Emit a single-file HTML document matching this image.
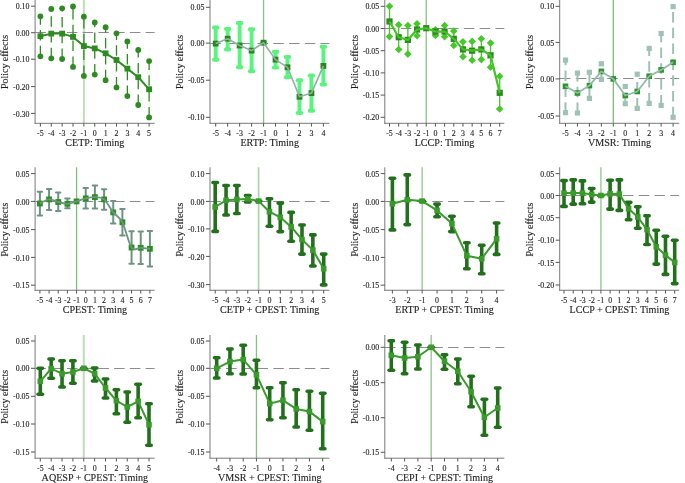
<!DOCTYPE html>
<html><head><meta charset="utf-8"><style>
html,body{margin:0;padding:0;background:#fff;}
svg{display:block;will-change:transform;}
text{font-family:"Liberation Serif",serif;fill:#1e1e1e;stroke:#222;stroke-width:0.12px;}
</style></head><body>
<svg width="685" height="483" viewBox="0 0 685 483">
<rect width="685" height="483" fill="#fff"/>
<g><line x1="83.88" y1="0" x2="83.88" y2="123.3" stroke="#bedfb9" stroke-width="2.0"/><line x1="35.4" y1="32.5" x2="154.6" y2="32.5" stroke="#8c8c8c" stroke-width="1" stroke-dasharray="10.5 5.25"/><line x1="35.1" y1="0" x2="35.1" y2="123.8" stroke="#7a7a7a" stroke-width="1"/><line x1="34.6" y1="123.3" x2="154.6" y2="123.3" stroke="#7a7a7a" stroke-width="1"/><line x1="31" y1="6.2" x2="35.1" y2="6.2" stroke="#555555" stroke-width="1"/><text x="29.5" y="9.3" text-anchor="end" font-size="7.9">0.10</text><line x1="31" y1="32.7" x2="35.1" y2="32.7" stroke="#555555" stroke-width="1"/><text x="29.5" y="35.8" text-anchor="end" font-size="7.9">0.00</text><line x1="31" y1="59.2" x2="35.1" y2="59.2" stroke="#555555" stroke-width="1"/><text x="29.5" y="62.3" text-anchor="end" font-size="7.9">-0.10</text><line x1="31" y1="86.6" x2="35.1" y2="86.6" stroke="#555555" stroke-width="1"/><text x="29.5" y="89.7" text-anchor="end" font-size="7.9">-0.20</text><line x1="31" y1="113.4" x2="35.1" y2="113.4" stroke="#555555" stroke-width="1"/><text x="29.5" y="116.5" text-anchor="end" font-size="7.9">-0.30</text><line x1="40.4" y1="123.3" x2="40.4" y2="126.6" stroke="#555555" stroke-width="1"/><text x="40.4" y="135.7" text-anchor="middle" font-size="7.9">-5</text><line x1="51.27" y1="123.3" x2="51.27" y2="126.6" stroke="#555555" stroke-width="1"/><text x="51.27" y="135.7" text-anchor="middle" font-size="7.9">-4</text><line x1="62.14" y1="123.3" x2="62.14" y2="126.6" stroke="#555555" stroke-width="1"/><text x="62.14" y="135.7" text-anchor="middle" font-size="7.9">-3</text><line x1="73.01" y1="123.3" x2="73.01" y2="126.6" stroke="#555555" stroke-width="1"/><text x="73.01" y="135.7" text-anchor="middle" font-size="7.9">-2</text><line x1="83.88" y1="123.3" x2="83.88" y2="126.6" stroke="#555555" stroke-width="1"/><text x="83.88" y="135.7" text-anchor="middle" font-size="7.9">-1</text><line x1="94.75" y1="123.3" x2="94.75" y2="126.6" stroke="#555555" stroke-width="1"/><text x="94.75" y="135.7" text-anchor="middle" font-size="7.9">0</text><line x1="105.62" y1="123.3" x2="105.62" y2="126.6" stroke="#555555" stroke-width="1"/><text x="105.62" y="135.7" text-anchor="middle" font-size="7.9">1</text><line x1="116.49" y1="123.3" x2="116.49" y2="126.6" stroke="#555555" stroke-width="1"/><text x="116.49" y="135.7" text-anchor="middle" font-size="7.9">2</text><line x1="127.36" y1="123.3" x2="127.36" y2="126.6" stroke="#555555" stroke-width="1"/><text x="127.36" y="135.7" text-anchor="middle" font-size="7.9">3</text><line x1="138.23" y1="123.3" x2="138.23" y2="126.6" stroke="#555555" stroke-width="1"/><text x="138.23" y="135.7" text-anchor="middle" font-size="7.9">4</text><line x1="149.1" y1="123.3" x2="149.1" y2="126.6" stroke="#555555" stroke-width="1"/><text x="149.1" y="135.7" text-anchor="middle" font-size="7.9">5</text><text transform="translate(94.85,145.9) scale(1,1.09)" text-anchor="middle" font-size="10.1">CETP: Timing</text><line x1="40.4" y1="56.3" x2="40.4" y2="16.3" stroke="#2e8b22" stroke-width="1.3" stroke-dasharray="10.5 5.3"/><circle cx="40.4" cy="16.3" r="2.9" fill="#2e8b22"/><circle cx="40.4" cy="56.3" r="2.9" fill="#2e8b22"/><line x1="51.27" y1="58.3" x2="51.27" y2="9" stroke="#2e8b22" stroke-width="1.3" stroke-dasharray="10.5 5.3"/><circle cx="51.27" cy="9" r="2.9" fill="#2e8b22"/><circle cx="51.27" cy="58.3" r="2.9" fill="#2e8b22"/><line x1="62.14" y1="59" x2="62.14" y2="8.3" stroke="#2e8b22" stroke-width="1.3" stroke-dasharray="10.5 5.3"/><circle cx="62.14" cy="8.3" r="2.9" fill="#2e8b22"/><circle cx="62.14" cy="59" r="2.9" fill="#2e8b22"/><line x1="73.01" y1="66.9" x2="73.01" y2="6.5" stroke="#2e8b22" stroke-width="1.3" stroke-dasharray="10.5 5.3"/><circle cx="73.01" cy="6.5" r="2.9" fill="#2e8b22"/><circle cx="73.01" cy="66.9" r="2.9" fill="#2e8b22"/><line x1="83.88" y1="75.9" x2="83.88" y2="16.7" stroke="#2e8b22" stroke-width="1.3" stroke-dasharray="10.5 5.3"/><circle cx="83.88" cy="16.7" r="2.9" fill="#2e8b22"/><circle cx="83.88" cy="75.9" r="2.9" fill="#2e8b22"/><line x1="94.75" y1="74.6" x2="94.75" y2="22.5" stroke="#2e8b22" stroke-width="1.3" stroke-dasharray="10.5 5.3"/><circle cx="94.75" cy="22.5" r="2.9" fill="#2e8b22"/><circle cx="94.75" cy="74.6" r="2.9" fill="#2e8b22"/><line x1="105.62" y1="80.2" x2="105.62" y2="27.2" stroke="#2e8b22" stroke-width="1.3" stroke-dasharray="10.5 5.3"/><circle cx="105.62" cy="27.2" r="2.9" fill="#2e8b22"/><circle cx="105.62" cy="80.2" r="2.9" fill="#2e8b22"/><line x1="116.49" y1="87.4" x2="116.49" y2="33.3" stroke="#2e8b22" stroke-width="1.3" stroke-dasharray="10.5 5.3"/><circle cx="116.49" cy="33.3" r="2.9" fill="#2e8b22"/><circle cx="116.49" cy="87.4" r="2.9" fill="#2e8b22"/><line x1="127.36" y1="96.1" x2="127.36" y2="41.4" stroke="#2e8b22" stroke-width="1.3" stroke-dasharray="10.5 5.3"/><circle cx="127.36" cy="41.4" r="2.9" fill="#2e8b22"/><circle cx="127.36" cy="96.1" r="2.9" fill="#2e8b22"/><line x1="138.23" y1="105" x2="138.23" y2="50" stroke="#2e8b22" stroke-width="1.3" stroke-dasharray="10.5 5.3"/><circle cx="138.23" cy="50" r="2.9" fill="#2e8b22"/><circle cx="138.23" cy="105" r="2.9" fill="#2e8b22"/><line x1="149.1" y1="117.4" x2="149.1" y2="61.1" stroke="#2e8b22" stroke-width="1.3" stroke-dasharray="10.5 5.3"/><circle cx="149.1" cy="61.1" r="2.9" fill="#2e8b22"/><circle cx="149.1" cy="117.4" r="2.9" fill="#2e8b22"/><rect x="37.5" y="33.3" width="5.8" height="5.8" fill="#2e8b22"/><rect x="48.37" y="30.7" width="5.8" height="5.8" fill="#2e8b22"/><rect x="59.24" y="30.7" width="5.8" height="5.8" fill="#2e8b22"/><rect x="70.11" y="34" width="5.8" height="5.8" fill="#2e8b22"/><rect x="80.98" y="43.2" width="5.8" height="5.8" fill="#2e8b22"/><rect x="91.85" y="45.5" width="5.8" height="5.8" fill="#2e8b22"/><rect x="102.72" y="50.4" width="5.8" height="5.8" fill="#2e8b22"/><rect x="113.59" y="57.1" width="5.8" height="5.8" fill="#2e8b22"/><rect x="124.46" y="65.7" width="5.8" height="5.8" fill="#2e8b22"/><rect x="135.33" y="74.3" width="5.8" height="5.8" fill="#2e8b22"/><rect x="146.2" y="86.4" width="5.8" height="5.8" fill="#2e8b22"/><polyline points="40.4,36.2 51.27,33.6 62.14,33.6 73.01,36.9 83.88,46.1 94.75,48.4 105.62,53.3 116.49,60 127.36,68.6 138.23,77.2 149.1,89.3" fill="none" stroke="#2e8b22" stroke-width="2.0" stroke-linejoin="round"/><text transform="translate(8,61.95) rotate(-90) scale(0.98,1)" text-anchor="middle" font-size="10.1">Policy effects</text></g>
<g><line x1="263.57" y1="0" x2="263.57" y2="123.3" stroke="#86c082" stroke-width="1.3"/><line x1="210.3" y1="43.5" x2="329.4" y2="43.5" stroke="#8c8c8c" stroke-width="1" stroke-dasharray="10.5 5.25"/><line x1="210" y1="0" x2="210" y2="123.8" stroke="#7a7a7a" stroke-width="1"/><line x1="209.5" y1="123.3" x2="329.4" y2="123.3" stroke="#7a7a7a" stroke-width="1"/><line x1="205.9" y1="7.3" x2="210" y2="7.3" stroke="#555555" stroke-width="1"/><text x="204.4" y="10.4" text-anchor="end" font-size="7.9">0.05</text><line x1="205.9" y1="43.1" x2="210" y2="43.1" stroke="#555555" stroke-width="1"/><text x="204.4" y="46.2" text-anchor="end" font-size="7.9">0.00</text><line x1="205.9" y1="80.2" x2="210" y2="80.2" stroke="#555555" stroke-width="1"/><text x="204.4" y="83.3" text-anchor="end" font-size="7.9">-0.05</text><line x1="205.9" y1="117.3" x2="210" y2="117.3" stroke="#555555" stroke-width="1"/><text x="204.4" y="120.4" text-anchor="end" font-size="7.9">-0.10</text><line x1="215.7" y1="123.3" x2="215.7" y2="126.6" stroke="#555555" stroke-width="1"/><text x="215.7" y="135.7" text-anchor="middle" font-size="7.9">-5</text><line x1="227.67" y1="123.3" x2="227.67" y2="126.6" stroke="#555555" stroke-width="1"/><text x="227.67" y="135.7" text-anchor="middle" font-size="7.9">-4</text><line x1="239.63" y1="123.3" x2="239.63" y2="126.6" stroke="#555555" stroke-width="1"/><text x="239.63" y="135.7" text-anchor="middle" font-size="7.9">-3</text><line x1="251.6" y1="123.3" x2="251.6" y2="126.6" stroke="#555555" stroke-width="1"/><text x="251.6" y="135.7" text-anchor="middle" font-size="7.9">-2</text><line x1="263.57" y1="123.3" x2="263.57" y2="126.6" stroke="#555555" stroke-width="1"/><text x="263.57" y="135.7" text-anchor="middle" font-size="7.9">-1</text><line x1="275.53" y1="123.3" x2="275.53" y2="126.6" stroke="#555555" stroke-width="1"/><text x="275.53" y="135.7" text-anchor="middle" font-size="7.9">0</text><line x1="287.5" y1="123.3" x2="287.5" y2="126.6" stroke="#555555" stroke-width="1"/><text x="287.5" y="135.7" text-anchor="middle" font-size="7.9">1</text><line x1="299.47" y1="123.3" x2="299.47" y2="126.6" stroke="#555555" stroke-width="1"/><text x="299.47" y="135.7" text-anchor="middle" font-size="7.9">2</text><line x1="311.43" y1="123.3" x2="311.43" y2="126.6" stroke="#555555" stroke-width="1"/><text x="311.43" y="135.7" text-anchor="middle" font-size="7.9">3</text><line x1="323.4" y1="123.3" x2="323.4" y2="126.6" stroke="#555555" stroke-width="1"/><text x="323.4" y="135.7" text-anchor="middle" font-size="7.9">4</text><text transform="translate(269.7,145.9) scale(1,1.09)" text-anchor="middle" font-size="10.1">ERTP: Timing</text><line x1="215.7" y1="59.7" x2="215.7" y2="27.5" stroke="#58f47c" stroke-width="3.9"/><line x1="213.9" y1="27.5" x2="217.5" y2="27.5" stroke="#58f47c" stroke-width="3.9" stroke-linecap="round"/><line x1="213.9" y1="59.7" x2="217.5" y2="59.7" stroke="#58f47c" stroke-width="3.9" stroke-linecap="round"/><line x1="227.67" y1="49.5" x2="227.67" y2="29" stroke="#58f47c" stroke-width="3.9"/><line x1="225.87" y1="29" x2="229.47" y2="29" stroke="#58f47c" stroke-width="3.9" stroke-linecap="round"/><line x1="225.87" y1="49.5" x2="229.47" y2="49.5" stroke="#58f47c" stroke-width="3.9" stroke-linecap="round"/><line x1="239.63" y1="67.2" x2="239.63" y2="23" stroke="#58f47c" stroke-width="3.9"/><line x1="237.83" y1="23" x2="241.43" y2="23" stroke="#58f47c" stroke-width="3.9" stroke-linecap="round"/><line x1="237.83" y1="67.2" x2="241.43" y2="67.2" stroke="#58f47c" stroke-width="3.9" stroke-linecap="round"/><line x1="251.6" y1="71.2" x2="251.6" y2="29.2" stroke="#58f47c" stroke-width="3.9"/><line x1="249.8" y1="29.2" x2="253.4" y2="29.2" stroke="#58f47c" stroke-width="3.9" stroke-linecap="round"/><line x1="249.8" y1="71.2" x2="253.4" y2="71.2" stroke="#58f47c" stroke-width="3.9" stroke-linecap="round"/><line x1="261.77" y1="42.7" x2="265.37" y2="42.7" stroke="#58f47c" stroke-width="3.9" stroke-linecap="round"/><line x1="275.53" y1="67.6" x2="275.53" y2="51.7" stroke="#58f47c" stroke-width="3.9"/><line x1="273.73" y1="51.7" x2="277.33" y2="51.7" stroke="#58f47c" stroke-width="3.9" stroke-linecap="round"/><line x1="273.73" y1="67.6" x2="277.33" y2="67.6" stroke="#58f47c" stroke-width="3.9" stroke-linecap="round"/><line x1="287.5" y1="77.2" x2="287.5" y2="57" stroke="#58f47c" stroke-width="3.9"/><line x1="285.7" y1="57" x2="289.3" y2="57" stroke="#58f47c" stroke-width="3.9" stroke-linecap="round"/><line x1="285.7" y1="77.2" x2="289.3" y2="77.2" stroke="#58f47c" stroke-width="3.9" stroke-linecap="round"/><line x1="299.47" y1="113" x2="299.47" y2="80.2" stroke="#58f47c" stroke-width="3.9"/><line x1="297.67" y1="80.2" x2="301.27" y2="80.2" stroke="#58f47c" stroke-width="3.9" stroke-linecap="round"/><line x1="297.67" y1="113" x2="301.27" y2="113" stroke="#58f47c" stroke-width="3.9" stroke-linecap="round"/><line x1="311.43" y1="110.7" x2="311.43" y2="75.5" stroke="#58f47c" stroke-width="3.9"/><line x1="309.63" y1="75.5" x2="313.23" y2="75.5" stroke="#58f47c" stroke-width="3.9" stroke-linecap="round"/><line x1="309.63" y1="110.7" x2="313.23" y2="110.7" stroke="#58f47c" stroke-width="3.9" stroke-linecap="round"/><line x1="323.4" y1="84.5" x2="323.4" y2="46.7" stroke="#58f47c" stroke-width="3.9"/><line x1="321.6" y1="46.7" x2="325.2" y2="46.7" stroke="#58f47c" stroke-width="3.9" stroke-linecap="round"/><line x1="321.6" y1="84.5" x2="325.2" y2="84.5" stroke="#58f47c" stroke-width="3.9" stroke-linecap="round"/><rect x="212.8" y="40.7" width="5.8" height="5.8" fill="#2a8520"/><rect x="224.77" y="35.8" width="5.8" height="5.8" fill="#2a8520"/><rect x="236.73" y="42.6" width="5.8" height="5.8" fill="#2a8520"/><rect x="248.7" y="47.7" width="5.8" height="5.8" fill="#2a8520"/><rect x="260.67" y="39.8" width="5.8" height="5.8" fill="#2a8520"/><rect x="272.63" y="56.7" width="5.8" height="5.8" fill="#2a8520"/><rect x="284.6" y="64.4" width="5.8" height="5.8" fill="#2a8520"/><rect x="296.57" y="93.9" width="5.8" height="5.8" fill="#2a8520"/><rect x="308.53" y="90.2" width="5.8" height="5.8" fill="#2a8520"/><rect x="320.5" y="63" width="5.8" height="5.8" fill="#2a8520"/><polyline points="215.7,43.6 227.67,38.7 239.63,45.5 251.6,50.6 263.57,42.7 275.53,59.6 287.5,67.3 299.47,96.8 311.43,93.1 323.4,65.9" fill="none" stroke="#8eb1a4" stroke-width="1.6" stroke-linejoin="round"/><text transform="translate(182.9,61.95) rotate(-90) scale(0.98,1)" text-anchor="middle" font-size="10.1">Policy effects</text></g>
<g><line x1="426.23" y1="0" x2="426.23" y2="123.3" stroke="#86c082" stroke-width="1.3"/><line x1="385.1" y1="28.5" x2="504.3" y2="28.5" stroke="#8c8c8c" stroke-width="1" stroke-dasharray="10.5 5.25"/><line x1="384.8" y1="0" x2="384.8" y2="123.8" stroke="#7a7a7a" stroke-width="1"/><line x1="384.3" y1="123.3" x2="504.3" y2="123.3" stroke="#7a7a7a" stroke-width="1"/><line x1="380.7" y1="6.3" x2="384.8" y2="6.3" stroke="#555555" stroke-width="1"/><text x="379.2" y="9.4" text-anchor="end" font-size="7.9">0.05</text><line x1="380.7" y1="28.5" x2="384.8" y2="28.5" stroke="#555555" stroke-width="1"/><text x="379.2" y="31.6" text-anchor="end" font-size="7.9">0.00</text><line x1="380.7" y1="50.7" x2="384.8" y2="50.7" stroke="#555555" stroke-width="1"/><text x="379.2" y="53.8" text-anchor="end" font-size="7.9">-0.05</text><line x1="380.7" y1="72.9" x2="384.8" y2="72.9" stroke="#555555" stroke-width="1"/><text x="379.2" y="76" text-anchor="end" font-size="7.9">-0.10</text><line x1="380.7" y1="95.1" x2="384.8" y2="95.1" stroke="#555555" stroke-width="1"/><text x="379.2" y="98.2" text-anchor="end" font-size="7.9">-0.15</text><line x1="380.7" y1="117.3" x2="384.8" y2="117.3" stroke="#555555" stroke-width="1"/><text x="379.2" y="120.4" text-anchor="end" font-size="7.9">-0.20</text><line x1="389.5" y1="123.3" x2="389.5" y2="126.6" stroke="#555555" stroke-width="1"/><text x="389.5" y="135.7" text-anchor="middle" font-size="7.9">-5</text><line x1="398.68" y1="123.3" x2="398.68" y2="126.6" stroke="#555555" stroke-width="1"/><text x="398.68" y="135.7" text-anchor="middle" font-size="7.9">-4</text><line x1="407.87" y1="123.3" x2="407.87" y2="126.6" stroke="#555555" stroke-width="1"/><text x="407.87" y="135.7" text-anchor="middle" font-size="7.9">-3</text><line x1="417.05" y1="123.3" x2="417.05" y2="126.6" stroke="#555555" stroke-width="1"/><text x="417.05" y="135.7" text-anchor="middle" font-size="7.9">-2</text><line x1="426.23" y1="123.3" x2="426.23" y2="126.6" stroke="#555555" stroke-width="1"/><text x="426.23" y="135.7" text-anchor="middle" font-size="7.9">-1</text><line x1="435.42" y1="123.3" x2="435.42" y2="126.6" stroke="#555555" stroke-width="1"/><text x="435.42" y="135.7" text-anchor="middle" font-size="7.9">0</text><line x1="444.6" y1="123.3" x2="444.6" y2="126.6" stroke="#555555" stroke-width="1"/><text x="444.6" y="135.7" text-anchor="middle" font-size="7.9">1</text><line x1="453.78" y1="123.3" x2="453.78" y2="126.6" stroke="#555555" stroke-width="1"/><text x="453.78" y="135.7" text-anchor="middle" font-size="7.9">2</text><line x1="462.97" y1="123.3" x2="462.97" y2="126.6" stroke="#555555" stroke-width="1"/><text x="462.97" y="135.7" text-anchor="middle" font-size="7.9">3</text><line x1="472.15" y1="123.3" x2="472.15" y2="126.6" stroke="#555555" stroke-width="1"/><text x="472.15" y="135.7" text-anchor="middle" font-size="7.9">4</text><line x1="481.33" y1="123.3" x2="481.33" y2="126.6" stroke="#555555" stroke-width="1"/><text x="481.33" y="135.7" text-anchor="middle" font-size="7.9">5</text><line x1="490.52" y1="123.3" x2="490.52" y2="126.6" stroke="#555555" stroke-width="1"/><text x="490.52" y="135.7" text-anchor="middle" font-size="7.9">6</text><line x1="499.7" y1="123.3" x2="499.7" y2="126.6" stroke="#555555" stroke-width="1"/><text x="499.7" y="135.7" text-anchor="middle" font-size="7.9">7</text><text transform="translate(444.55,145.9) scale(1,1.09)" text-anchor="middle" font-size="10.1">LCCP: Timing</text><line x1="389.5" y1="36.6" x2="389.5" y2="6.2" stroke="#45c92a" stroke-width="1.3"/><path d="M389.5,2.4 L393.3,6.2 L389.5,10 L385.7,6.2 Z" fill="#45c92a"/><path d="M389.5,32.8 L393.3,36.6 L389.5,40.4 L385.7,36.6 Z" fill="#45c92a"/><line x1="398.68" y1="49.5" x2="398.68" y2="24.7" stroke="#45c92a" stroke-width="1.3"/><path d="M398.68,20.9 L402.48,24.7 L398.68,28.5 L394.88,24.7 Z" fill="#45c92a"/><path d="M398.68,45.7 L402.48,49.5 L398.68,53.3 L394.88,49.5 Z" fill="#45c92a"/><line x1="407.87" y1="54.1" x2="407.87" y2="25.5" stroke="#45c92a" stroke-width="1.3"/><path d="M407.87,21.7 L411.67,25.5 L407.87,29.3 L404.07,25.5 Z" fill="#45c92a"/><path d="M407.87,50.3 L411.67,54.1 L407.87,57.9 L404.07,54.1 Z" fill="#45c92a"/><line x1="417.05" y1="35.7" x2="417.05" y2="23.8" stroke="#45c92a" stroke-width="1.3"/><path d="M417.05,20 L420.85,23.8 L417.05,27.6 L413.25,23.8 Z" fill="#45c92a"/><path d="M417.05,31.9 L420.85,35.7 L417.05,39.5 L413.25,35.7 Z" fill="#45c92a"/><line x1="435.42" y1="35.5" x2="435.42" y2="29.7" stroke="#45c92a" stroke-width="1.3"/><path d="M435.42,25.9 L439.22,29.7 L435.42,33.5 L431.62,29.7 Z" fill="#45c92a"/><path d="M435.42,31.7 L439.22,35.5 L435.42,39.3 L431.62,35.5 Z" fill="#45c92a"/><line x1="444.6" y1="36.8" x2="444.6" y2="25.5" stroke="#45c92a" stroke-width="1.3"/><path d="M444.6,21.7 L448.4,25.5 L444.6,29.3 L440.8,25.5 Z" fill="#45c92a"/><path d="M444.6,33 L448.4,36.8 L444.6,40.6 L440.8,36.8 Z" fill="#45c92a"/><line x1="453.78" y1="45.4" x2="453.78" y2="31.1" stroke="#45c92a" stroke-width="1.3"/><path d="M453.78,27.3 L457.58,31.1 L453.78,34.9 L449.98,31.1 Z" fill="#45c92a"/><path d="M453.78,41.6 L457.58,45.4 L453.78,49.2 L449.98,45.4 Z" fill="#45c92a"/><line x1="462.97" y1="56.7" x2="462.97" y2="41.7" stroke="#45c92a" stroke-width="1.3"/><path d="M462.97,37.9 L466.77,41.7 L462.97,45.5 L459.17,41.7 Z" fill="#45c92a"/><path d="M462.97,52.9 L466.77,56.7 L462.97,60.5 L459.17,56.7 Z" fill="#45c92a"/><line x1="472.15" y1="60.3" x2="472.15" y2="41.4" stroke="#45c92a" stroke-width="1.3"/><path d="M472.15,37.6 L475.95,41.4 L472.15,45.2 L468.35,41.4 Z" fill="#45c92a"/><path d="M472.15,56.5 L475.95,60.3 L472.15,64.1 L468.35,60.3 Z" fill="#45c92a"/><line x1="481.33" y1="59.6" x2="481.33" y2="38.8" stroke="#45c92a" stroke-width="1.3"/><path d="M481.33,35 L485.13,38.8 L481.33,42.6 L477.53,38.8 Z" fill="#45c92a"/><path d="M481.33,55.8 L485.13,59.6 L481.33,63.4 L477.53,59.6 Z" fill="#45c92a"/><line x1="490.52" y1="67.3" x2="490.52" y2="43.1" stroke="#45c92a" stroke-width="1.3"/><path d="M490.52,39.3 L494.32,43.1 L490.52,46.9 L486.72,43.1 Z" fill="#45c92a"/><path d="M490.52,63.5 L494.32,67.3 L490.52,71.1 L486.72,67.3 Z" fill="#45c92a"/><line x1="499.7" y1="109" x2="499.7" y2="76.2" stroke="#45c92a" stroke-width="1.3"/><path d="M499.7,72.4 L503.5,76.2 L499.7,80 L495.9,76.2 Z" fill="#45c92a"/><path d="M499.7,105.2 L503.5,109 L499.7,112.8 L495.9,109 Z" fill="#45c92a"/><rect x="386.4" y="18.4" width="6.2" height="6.2" fill="#2b8a1c"/><rect x="395.58" y="34.1" width="6.2" height="6.2" fill="#2b8a1c"/><rect x="404.77" y="36.8" width="6.2" height="6.2" fill="#2b8a1c"/><rect x="413.95" y="26.4" width="6.2" height="6.2" fill="#2b8a1c"/><rect x="423.13" y="25.1" width="6.2" height="6.2" fill="#2b8a1c"/><rect x="432.32" y="28.5" width="6.2" height="6.2" fill="#2b8a1c"/><rect x="441.5" y="28.4" width="6.2" height="6.2" fill="#2b8a1c"/><rect x="450.68" y="35.7" width="6.2" height="6.2" fill="#2b8a1c"/><rect x="459.87" y="46.3" width="6.2" height="6.2" fill="#2b8a1c"/><rect x="469.05" y="47.6" width="6.2" height="6.2" fill="#2b8a1c"/><rect x="478.23" y="46.3" width="6.2" height="6.2" fill="#2b8a1c"/><rect x="487.42" y="52.2" width="6.2" height="6.2" fill="#2b8a1c"/><rect x="496.6" y="89.7" width="6.2" height="6.2" fill="#2b8a1c"/><polyline points="389.5,21.5 398.68,37.2 407.87,39.9 417.05,29.5 426.23,28.2 435.42,31.6 444.6,31.5 453.78,38.8 462.97,49.4 472.15,50.7 481.33,49.4 490.52,55.3 499.7,92.8" fill="none" stroke="#45c22a" stroke-width="2.2" stroke-linejoin="round"/><text transform="translate(357.7,61.95) rotate(-90) scale(0.98,1)" text-anchor="middle" font-size="10.1">Policy effects</text></g>
<g><line x1="613.32" y1="0" x2="613.32" y2="123.3" stroke="#7cbc78" stroke-width="1.3"/><line x1="560" y1="78.5" x2="679.2" y2="78.5" stroke="#8c8c8c" stroke-width="1" stroke-dasharray="10.5 5.25"/><line x1="559.7" y1="0" x2="559.7" y2="123.8" stroke="#7a7a7a" stroke-width="1"/><line x1="559.2" y1="123.3" x2="679.2" y2="123.3" stroke="#7a7a7a" stroke-width="1"/><line x1="555.6" y1="6.3" x2="559.7" y2="6.3" stroke="#555555" stroke-width="1"/><text x="554.1" y="9.4" text-anchor="end" font-size="7.9">0.10</text><line x1="555.6" y1="42.4" x2="559.7" y2="42.4" stroke="#555555" stroke-width="1"/><text x="554.1" y="45.5" text-anchor="end" font-size="7.9">0.05</text><line x1="555.6" y1="78.9" x2="559.7" y2="78.9" stroke="#555555" stroke-width="1"/><text x="554.1" y="82" text-anchor="end" font-size="7.9">0.00</text><line x1="555.6" y1="116" x2="559.7" y2="116" stroke="#555555" stroke-width="1"/><text x="554.1" y="119.1" text-anchor="end" font-size="7.9">-0.05</text><line x1="565.5" y1="123.3" x2="565.5" y2="126.6" stroke="#555555" stroke-width="1"/><text x="565.5" y="135.7" text-anchor="middle" font-size="7.9">-5</text><line x1="577.46" y1="123.3" x2="577.46" y2="126.6" stroke="#555555" stroke-width="1"/><text x="577.46" y="135.7" text-anchor="middle" font-size="7.9">-4</text><line x1="589.41" y1="123.3" x2="589.41" y2="126.6" stroke="#555555" stroke-width="1"/><text x="589.41" y="135.7" text-anchor="middle" font-size="7.9">-3</text><line x1="601.37" y1="123.3" x2="601.37" y2="126.6" stroke="#555555" stroke-width="1"/><text x="601.37" y="135.7" text-anchor="middle" font-size="7.9">-2</text><line x1="613.32" y1="123.3" x2="613.32" y2="126.6" stroke="#555555" stroke-width="1"/><text x="613.32" y="135.7" text-anchor="middle" font-size="7.9">-1</text><line x1="625.28" y1="123.3" x2="625.28" y2="126.6" stroke="#555555" stroke-width="1"/><text x="625.28" y="135.7" text-anchor="middle" font-size="7.9">0</text><line x1="637.23" y1="123.3" x2="637.23" y2="126.6" stroke="#555555" stroke-width="1"/><text x="637.23" y="135.7" text-anchor="middle" font-size="7.9">1</text><line x1="649.19" y1="123.3" x2="649.19" y2="126.6" stroke="#555555" stroke-width="1"/><text x="649.19" y="135.7" text-anchor="middle" font-size="7.9">2</text><line x1="661.14" y1="123.3" x2="661.14" y2="126.6" stroke="#555555" stroke-width="1"/><text x="661.14" y="135.7" text-anchor="middle" font-size="7.9">3</text><line x1="673.1" y1="123.3" x2="673.1" y2="126.6" stroke="#555555" stroke-width="1"/><text x="673.1" y="135.7" text-anchor="middle" font-size="7.9">4</text><text transform="translate(619.45,145.9) scale(1,1.09)" text-anchor="middle" font-size="10.1">VMSR: Timing</text><line x1="565.5" y1="112.7" x2="565.5" y2="60.1" stroke="#a0c2b4" stroke-width="2.0" stroke-dasharray="10.5 5.3"/><rect x="562.9" y="57.5" width="5.2" height="5.2" fill="#a0c2b4"/><rect x="562.9" y="110.1" width="5.2" height="5.2" fill="#a0c2b4"/><line x1="577.46" y1="113" x2="577.46" y2="73.1" stroke="#a0c2b4" stroke-width="2.0" stroke-dasharray="10.5 5.3"/><rect x="574.86" y="70.5" width="5.2" height="5.2" fill="#a0c2b4"/><rect x="574.86" y="110.4" width="5.2" height="5.2" fill="#a0c2b4"/><line x1="589.41" y1="98.4" x2="589.41" y2="72.3" stroke="#a0c2b4" stroke-width="2.0" stroke-dasharray="10.5 5.3"/><rect x="586.81" y="69.7" width="5.2" height="5.2" fill="#a0c2b4"/><rect x="586.81" y="95.8" width="5.2" height="5.2" fill="#a0c2b4"/><line x1="601.37" y1="79.4" x2="601.37" y2="63.8" stroke="#a0c2b4" stroke-width="2.0" stroke-dasharray="10.5 5.3"/><rect x="598.77" y="61.2" width="5.2" height="5.2" fill="#a0c2b4"/><rect x="598.77" y="76.8" width="5.2" height="5.2" fill="#a0c2b4"/><line x1="625.28" y1="103.7" x2="625.28" y2="86.5" stroke="#a0c2b4" stroke-width="2.0" stroke-dasharray="10.5 5.3"/><rect x="622.68" y="83.9" width="5.2" height="5.2" fill="#a0c2b4"/><rect x="622.68" y="101.1" width="5.2" height="5.2" fill="#a0c2b4"/><line x1="637.23" y1="108.4" x2="637.23" y2="74.2" stroke="#a0c2b4" stroke-width="2.0" stroke-dasharray="10.5 5.3"/><rect x="634.63" y="71.6" width="5.2" height="5.2" fill="#a0c2b4"/><rect x="634.63" y="105.8" width="5.2" height="5.2" fill="#a0c2b4"/><line x1="649.19" y1="103.4" x2="649.19" y2="48.4" stroke="#a0c2b4" stroke-width="2.0" stroke-dasharray="10.5 5.3"/><rect x="646.59" y="45.8" width="5.2" height="5.2" fill="#a0c2b4"/><rect x="646.59" y="100.8" width="5.2" height="5.2" fill="#a0c2b4"/><line x1="661.14" y1="105.4" x2="661.14" y2="33.5" stroke="#a0c2b4" stroke-width="2.0" stroke-dasharray="10.5 5.3"/><rect x="658.54" y="30.9" width="5.2" height="5.2" fill="#a0c2b4"/><rect x="658.54" y="102.8" width="5.2" height="5.2" fill="#a0c2b4"/><line x1="673.1" y1="117.3" x2="673.1" y2="6.6" stroke="#a0c2b4" stroke-width="2.0" stroke-dasharray="10.5 5.3"/><rect x="670.5" y="4" width="5.2" height="5.2" fill="#a0c2b4"/><rect x="670.5" y="114.7" width="5.2" height="5.2" fill="#a0c2b4"/><rect x="562.7" y="83.5" width="5.6" height="5.6" fill="#2a952a"/><rect x="574.66" y="90.2" width="5.6" height="5.6" fill="#2a952a"/><rect x="586.61" y="82.8" width="5.6" height="5.6" fill="#2a952a"/><rect x="598.57" y="68.6" width="5.6" height="5.6" fill="#2a952a"/><rect x="610.52" y="76.1" width="5.6" height="5.6" fill="#2a952a"/><rect x="622.48" y="92.7" width="5.6" height="5.6" fill="#2a952a"/><rect x="634.43" y="88.7" width="5.6" height="5.6" fill="#2a952a"/><rect x="646.39" y="73.4" width="5.6" height="5.6" fill="#2a952a"/><rect x="658.34" y="67.1" width="5.6" height="5.6" fill="#2a952a"/><rect x="670.3" y="59.5" width="5.6" height="5.6" fill="#2a952a"/><polyline points="565.5,86.3 577.46,93 589.41,85.6 601.37,71.4 613.32,78.9 625.28,95.5 637.23,91.5 649.19,76.2 661.14,69.9 673.1,62.3" fill="none" stroke="#93b9a9" stroke-width="1.8" stroke-linejoin="round"/><text transform="translate(532.6,61.95) rotate(-90) scale(0.98,1)" text-anchor="middle" font-size="10.1">Policy effects</text></g>
<g><line x1="76.57" y1="167.3" x2="76.57" y2="290.25" stroke="#80be7c" stroke-width="1.3"/><line x1="35.4" y1="201.5" x2="154.6" y2="201.5" stroke="#8c8c8c" stroke-width="1" stroke-dasharray="10.5 5.25"/><line x1="35.1" y1="167.3" x2="35.1" y2="290.75" stroke="#7a7a7a" stroke-width="1"/><line x1="34.6" y1="290.25" x2="154.6" y2="290.25" stroke="#7a7a7a" stroke-width="1"/><line x1="31" y1="173.6" x2="35.1" y2="173.6" stroke="#555555" stroke-width="1"/><text x="29.5" y="176.7" text-anchor="end" font-size="7.9">0.05</text><line x1="31" y1="201.4" x2="35.1" y2="201.4" stroke="#555555" stroke-width="1"/><text x="29.5" y="204.5" text-anchor="end" font-size="7.9">0.00</text><line x1="31" y1="229.6" x2="35.1" y2="229.6" stroke="#555555" stroke-width="1"/><text x="29.5" y="232.7" text-anchor="end" font-size="7.9">-0.05</text><line x1="31" y1="257.4" x2="35.1" y2="257.4" stroke="#555555" stroke-width="1"/><text x="29.5" y="260.5" text-anchor="end" font-size="7.9">-0.10</text><line x1="31" y1="285.2" x2="35.1" y2="285.2" stroke="#555555" stroke-width="1"/><text x="29.5" y="288.3" text-anchor="end" font-size="7.9">-0.15</text><line x1="39.9" y1="290.25" x2="39.9" y2="293.55" stroke="#555555" stroke-width="1"/><text x="39.9" y="302.65" text-anchor="middle" font-size="7.9">-5</text><line x1="49.07" y1="290.25" x2="49.07" y2="293.55" stroke="#555555" stroke-width="1"/><text x="49.07" y="302.65" text-anchor="middle" font-size="7.9">-4</text><line x1="58.23" y1="290.25" x2="58.23" y2="293.55" stroke="#555555" stroke-width="1"/><text x="58.23" y="302.65" text-anchor="middle" font-size="7.9">-3</text><line x1="67.4" y1="290.25" x2="67.4" y2="293.55" stroke="#555555" stroke-width="1"/><text x="67.4" y="302.65" text-anchor="middle" font-size="7.9">-2</text><line x1="76.57" y1="290.25" x2="76.57" y2="293.55" stroke="#555555" stroke-width="1"/><text x="76.57" y="302.65" text-anchor="middle" font-size="7.9">-1</text><line x1="85.73" y1="290.25" x2="85.73" y2="293.55" stroke="#555555" stroke-width="1"/><text x="85.73" y="302.65" text-anchor="middle" font-size="7.9">0</text><line x1="94.9" y1="290.25" x2="94.9" y2="293.55" stroke="#555555" stroke-width="1"/><text x="94.9" y="302.65" text-anchor="middle" font-size="7.9">1</text><line x1="104.07" y1="290.25" x2="104.07" y2="293.55" stroke="#555555" stroke-width="1"/><text x="104.07" y="302.65" text-anchor="middle" font-size="7.9">2</text><line x1="113.23" y1="290.25" x2="113.23" y2="293.55" stroke="#555555" stroke-width="1"/><text x="113.23" y="302.65" text-anchor="middle" font-size="7.9">3</text><line x1="122.4" y1="290.25" x2="122.4" y2="293.55" stroke="#555555" stroke-width="1"/><text x="122.4" y="302.65" text-anchor="middle" font-size="7.9">4</text><line x1="131.57" y1="290.25" x2="131.57" y2="293.55" stroke="#555555" stroke-width="1"/><text x="131.57" y="302.65" text-anchor="middle" font-size="7.9">5</text><line x1="140.73" y1="290.25" x2="140.73" y2="293.55" stroke="#555555" stroke-width="1"/><text x="140.73" y="302.65" text-anchor="middle" font-size="7.9">6</text><line x1="149.9" y1="290.25" x2="149.9" y2="293.55" stroke="#555555" stroke-width="1"/><text x="149.9" y="302.65" text-anchor="middle" font-size="7.9">7</text><text transform="translate(94.85,312.85) scale(1,1.09)" text-anchor="middle" font-size="10.1">CPEST: Timing</text><line x1="39.9" y1="215.5" x2="39.9" y2="191.7" stroke="#6f9383" stroke-width="2.0"/><line x1="37.7" y1="191.7" x2="42.1" y2="191.7" stroke="#6f9383" stroke-width="2.0" stroke-linecap="round"/><line x1="37.7" y1="215.5" x2="42.1" y2="215.5" stroke="#6f9383" stroke-width="2.0" stroke-linecap="round"/><line x1="49.07" y1="209.9" x2="49.07" y2="189.1" stroke="#6f9383" stroke-width="2.0"/><line x1="46.87" y1="189.1" x2="51.27" y2="189.1" stroke="#6f9383" stroke-width="2.0" stroke-linecap="round"/><line x1="46.87" y1="209.9" x2="51.27" y2="209.9" stroke="#6f9383" stroke-width="2.0" stroke-linecap="round"/><line x1="58.23" y1="211.1" x2="58.23" y2="192.5" stroke="#6f9383" stroke-width="2.0"/><line x1="56.03" y1="192.5" x2="60.43" y2="192.5" stroke="#6f9383" stroke-width="2.0" stroke-linecap="round"/><line x1="56.03" y1="211.1" x2="60.43" y2="211.1" stroke="#6f9383" stroke-width="2.0" stroke-linecap="round"/><line x1="67.4" y1="208.2" x2="67.4" y2="198.6" stroke="#6f9383" stroke-width="2.0"/><line x1="65.2" y1="198.6" x2="69.6" y2="198.6" stroke="#6f9383" stroke-width="2.0" stroke-linecap="round"/><line x1="65.2" y1="208.2" x2="69.6" y2="208.2" stroke="#6f9383" stroke-width="2.0" stroke-linecap="round"/><line x1="85.73" y1="208.6" x2="85.73" y2="188" stroke="#6f9383" stroke-width="2.0"/><line x1="83.53" y1="188" x2="87.93" y2="188" stroke="#6f9383" stroke-width="2.0" stroke-linecap="round"/><line x1="83.53" y1="208.6" x2="87.93" y2="208.6" stroke="#6f9383" stroke-width="2.0" stroke-linecap="round"/><line x1="94.9" y1="208.4" x2="94.9" y2="185.5" stroke="#6f9383" stroke-width="2.0"/><line x1="92.7" y1="185.5" x2="97.1" y2="185.5" stroke="#6f9383" stroke-width="2.0" stroke-linecap="round"/><line x1="92.7" y1="208.4" x2="97.1" y2="208.4" stroke="#6f9383" stroke-width="2.0" stroke-linecap="round"/><line x1="104.07" y1="209.7" x2="104.07" y2="189.2" stroke="#6f9383" stroke-width="2.0"/><line x1="101.87" y1="189.2" x2="106.27" y2="189.2" stroke="#6f9383" stroke-width="2.0" stroke-linecap="round"/><line x1="101.87" y1="209.7" x2="106.27" y2="209.7" stroke="#6f9383" stroke-width="2.0" stroke-linecap="round"/><line x1="113.23" y1="223.6" x2="113.23" y2="201.1" stroke="#6f9383" stroke-width="2.0"/><line x1="111.03" y1="201.1" x2="115.43" y2="201.1" stroke="#6f9383" stroke-width="2.0" stroke-linecap="round"/><line x1="111.03" y1="223.6" x2="115.43" y2="223.6" stroke="#6f9383" stroke-width="2.0" stroke-linecap="round"/><line x1="122.4" y1="235.5" x2="122.4" y2="209" stroke="#6f9383" stroke-width="2.0"/><line x1="120.2" y1="209" x2="124.6" y2="209" stroke="#6f9383" stroke-width="2.0" stroke-linecap="round"/><line x1="120.2" y1="235.5" x2="124.6" y2="235.5" stroke="#6f9383" stroke-width="2.0" stroke-linecap="round"/><line x1="131.57" y1="263.7" x2="131.57" y2="231.2" stroke="#6f9383" stroke-width="2.0"/><line x1="129.37" y1="231.2" x2="133.77" y2="231.2" stroke="#6f9383" stroke-width="2.0" stroke-linecap="round"/><line x1="129.37" y1="263.7" x2="133.77" y2="263.7" stroke="#6f9383" stroke-width="2.0" stroke-linecap="round"/><line x1="140.73" y1="264" x2="140.73" y2="231.6" stroke="#6f9383" stroke-width="2.0"/><line x1="138.53" y1="231.6" x2="142.93" y2="231.6" stroke="#6f9383" stroke-width="2.0" stroke-linecap="round"/><line x1="138.53" y1="264" x2="142.93" y2="264" stroke="#6f9383" stroke-width="2.0" stroke-linecap="round"/><line x1="149.9" y1="266.4" x2="149.9" y2="230.9" stroke="#6f9383" stroke-width="2.0"/><line x1="147.7" y1="230.9" x2="152.1" y2="230.9" stroke="#6f9383" stroke-width="2.0" stroke-linecap="round"/><line x1="147.7" y1="266.4" x2="152.1" y2="266.4" stroke="#6f9383" stroke-width="2.0" stroke-linecap="round"/><rect x="37" y="200.6" width="5.8" height="5.8" fill="#28901f"/><rect x="46.17" y="196.5" width="5.8" height="5.8" fill="#28901f"/><rect x="55.33" y="199.1" width="5.8" height="5.8" fill="#28901f"/><rect x="64.5" y="200.9" width="5.8" height="5.8" fill="#28901f"/><rect x="73.67" y="198.5" width="5.8" height="5.8" fill="#28901f"/><rect x="82.83" y="195.5" width="5.8" height="5.8" fill="#28901f"/><rect x="92" y="194.2" width="5.8" height="5.8" fill="#28901f"/><rect x="101.17" y="196.5" width="5.8" height="5.8" fill="#28901f"/><rect x="110.33" y="209.5" width="5.8" height="5.8" fill="#28901f"/><rect x="119.5" y="219.4" width="5.8" height="5.8" fill="#28901f"/><rect x="128.67" y="244.6" width="5.8" height="5.8" fill="#28901f"/><rect x="137.83" y="244.9" width="5.8" height="5.8" fill="#28901f"/><rect x="147" y="245.9" width="5.8" height="5.8" fill="#28901f"/><path d="M39.9,203.5 C41.43,202.82 46.01,199.65 49.07,199.4 C52.12,199.15 55.18,201.27 58.23,202 C61.29,202.73 64.34,203.9 67.4,203.8 C70.46,203.7 73.51,202.3 76.57,201.4 C79.62,200.5 82.68,199.12 85.73,198.4 C88.79,197.68 91.84,196.93 94.9,197.1 C97.96,197.27 101.01,196.85 104.07,199.4 C107.12,201.95 110.18,208.58 113.23,212.4 C116.29,216.22 119.34,216.45 122.4,222.3 C125.46,228.15 128.51,243.25 131.57,247.5 C134.62,251.75 137.68,247.58 140.73,247.8 C143.79,248.02 148.37,248.63 149.9,248.8" fill="none" stroke="#6f9383" stroke-width="1.8" stroke-linejoin="round"/><text transform="translate(8,229.68) rotate(-90) scale(0.98,1)" text-anchor="middle" font-size="10.1">Policy effects</text></g>
<g><line x1="258.6" y1="167.3" x2="258.6" y2="290.25" stroke="#a8d4a4" stroke-width="1.7"/><line x1="210.3" y1="201.5" x2="329.4" y2="201.5" stroke="#8c8c8c" stroke-width="1" stroke-dasharray="10.5 5.25"/><line x1="210" y1="167.3" x2="210" y2="290.75" stroke="#7a7a7a" stroke-width="1"/><line x1="209.5" y1="290.25" x2="329.4" y2="290.25" stroke="#7a7a7a" stroke-width="1"/><line x1="205.9" y1="173.6" x2="210" y2="173.6" stroke="#555555" stroke-width="1"/><text x="204.4" y="176.7" text-anchor="end" font-size="7.9">0.10</text><line x1="205.9" y1="201.4" x2="210" y2="201.4" stroke="#555555" stroke-width="1"/><text x="204.4" y="204.5" text-anchor="end" font-size="7.9">0.00</text><line x1="205.9" y1="228.9" x2="210" y2="228.9" stroke="#555555" stroke-width="1"/><text x="204.4" y="232" text-anchor="end" font-size="7.9">-0.10</text><line x1="205.9" y1="256.4" x2="210" y2="256.4" stroke="#555555" stroke-width="1"/><text x="204.4" y="259.5" text-anchor="end" font-size="7.9">-0.20</text><line x1="205.9" y1="284.6" x2="210" y2="284.6" stroke="#555555" stroke-width="1"/><text x="204.4" y="287.7" text-anchor="end" font-size="7.9">-0.30</text><line x1="215.2" y1="290.25" x2="215.2" y2="293.55" stroke="#555555" stroke-width="1"/><text x="215.2" y="302.65" text-anchor="middle" font-size="7.9">-5</text><line x1="226.05" y1="290.25" x2="226.05" y2="293.55" stroke="#555555" stroke-width="1"/><text x="226.05" y="302.65" text-anchor="middle" font-size="7.9">-4</text><line x1="236.9" y1="290.25" x2="236.9" y2="293.55" stroke="#555555" stroke-width="1"/><text x="236.9" y="302.65" text-anchor="middle" font-size="7.9">-3</text><line x1="247.75" y1="290.25" x2="247.75" y2="293.55" stroke="#555555" stroke-width="1"/><text x="247.75" y="302.65" text-anchor="middle" font-size="7.9">-2</text><line x1="258.6" y1="290.25" x2="258.6" y2="293.55" stroke="#555555" stroke-width="1"/><text x="258.6" y="302.65" text-anchor="middle" font-size="7.9">-1</text><line x1="269.45" y1="290.25" x2="269.45" y2="293.55" stroke="#555555" stroke-width="1"/><text x="269.45" y="302.65" text-anchor="middle" font-size="7.9">0</text><line x1="280.3" y1="290.25" x2="280.3" y2="293.55" stroke="#555555" stroke-width="1"/><text x="280.3" y="302.65" text-anchor="middle" font-size="7.9">1</text><line x1="291.15" y1="290.25" x2="291.15" y2="293.55" stroke="#555555" stroke-width="1"/><text x="291.15" y="302.65" text-anchor="middle" font-size="7.9">2</text><line x1="302" y1="290.25" x2="302" y2="293.55" stroke="#555555" stroke-width="1"/><text x="302" y="302.65" text-anchor="middle" font-size="7.9">3</text><line x1="312.85" y1="290.25" x2="312.85" y2="293.55" stroke="#555555" stroke-width="1"/><text x="312.85" y="302.65" text-anchor="middle" font-size="7.9">4</text><line x1="323.7" y1="290.25" x2="323.7" y2="293.55" stroke="#555555" stroke-width="1"/><text x="323.7" y="302.65" text-anchor="middle" font-size="7.9">5</text><text transform="translate(269.7,312.85) scale(1,1.09)" text-anchor="middle" font-size="10.1">CETP + CPEST: Timing</text><line x1="215.2" y1="231.4" x2="215.2" y2="182.5" stroke="#22701c" stroke-width="3.6"/><line x1="213" y1="182.5" x2="217.4" y2="182.5" stroke="#22701c" stroke-width="3.6" stroke-linecap="round"/><line x1="213" y1="231.4" x2="217.4" y2="231.4" stroke="#22701c" stroke-width="3.6" stroke-linecap="round"/><line x1="226.05" y1="215" x2="226.05" y2="185.5" stroke="#22701c" stroke-width="3.6"/><line x1="223.85" y1="185.5" x2="228.25" y2="185.5" stroke="#22701c" stroke-width="3.6" stroke-linecap="round"/><line x1="223.85" y1="215" x2="228.25" y2="215" stroke="#22701c" stroke-width="3.6" stroke-linecap="round"/><line x1="236.9" y1="213.5" x2="236.9" y2="185.5" stroke="#22701c" stroke-width="3.6"/><line x1="234.7" y1="185.5" x2="239.1" y2="185.5" stroke="#22701c" stroke-width="3.6" stroke-linecap="round"/><line x1="234.7" y1="213.5" x2="239.1" y2="213.5" stroke="#22701c" stroke-width="3.6" stroke-linecap="round"/><line x1="247.75" y1="201.9" x2="247.75" y2="195.5" stroke="#22701c" stroke-width="3.6"/><line x1="245.55" y1="195.5" x2="249.95" y2="195.5" stroke="#22701c" stroke-width="3.6" stroke-linecap="round"/><line x1="245.55" y1="201.9" x2="249.95" y2="201.9" stroke="#22701c" stroke-width="3.6" stroke-linecap="round"/><line x1="256.4" y1="201.1" x2="260.8" y2="201.1" stroke="#22701c" stroke-width="3.6" stroke-linecap="round"/><line x1="269.45" y1="226.3" x2="269.45" y2="198.8" stroke="#22701c" stroke-width="3.6"/><line x1="267.25" y1="198.8" x2="271.65" y2="198.8" stroke="#22701c" stroke-width="3.6" stroke-linecap="round"/><line x1="267.25" y1="226.3" x2="271.65" y2="226.3" stroke="#22701c" stroke-width="3.6" stroke-linecap="round"/><line x1="280.3" y1="231.6" x2="280.3" y2="203.1" stroke="#22701c" stroke-width="3.6"/><line x1="278.1" y1="203.1" x2="282.5" y2="203.1" stroke="#22701c" stroke-width="3.6" stroke-linecap="round"/><line x1="278.1" y1="231.6" x2="282.5" y2="231.6" stroke="#22701c" stroke-width="3.6" stroke-linecap="round"/><line x1="291.15" y1="241.2" x2="291.15" y2="212.4" stroke="#22701c" stroke-width="3.6"/><line x1="288.95" y1="212.4" x2="293.35" y2="212.4" stroke="#22701c" stroke-width="3.6" stroke-linecap="round"/><line x1="288.95" y1="241.2" x2="293.35" y2="241.2" stroke="#22701c" stroke-width="3.6" stroke-linecap="round"/><line x1="302" y1="254.1" x2="302" y2="225" stroke="#22701c" stroke-width="3.6"/><line x1="299.8" y1="225" x2="304.2" y2="225" stroke="#22701c" stroke-width="3.6" stroke-linecap="round"/><line x1="299.8" y1="254.1" x2="304.2" y2="254.1" stroke="#22701c" stroke-width="3.6" stroke-linecap="round"/><line x1="312.85" y1="266" x2="312.85" y2="234.9" stroke="#22701c" stroke-width="3.6"/><line x1="310.65" y1="234.9" x2="315.05" y2="234.9" stroke="#22701c" stroke-width="3.6" stroke-linecap="round"/><line x1="310.65" y1="266" x2="315.05" y2="266" stroke="#22701c" stroke-width="3.6" stroke-linecap="round"/><line x1="323.7" y1="284.9" x2="323.7" y2="254.1" stroke="#22701c" stroke-width="3.6"/><line x1="321.5" y1="254.1" x2="325.9" y2="254.1" stroke="#22701c" stroke-width="3.6" stroke-linecap="round"/><line x1="321.5" y1="284.9" x2="325.9" y2="284.9" stroke="#22701c" stroke-width="3.6" stroke-linecap="round"/><rect x="212.4" y="204.2" width="5.6" height="5.6" fill="#3a9a2c"/><rect x="223.25" y="197.5" width="5.6" height="5.6" fill="#3a9a2c"/><rect x="234.1" y="196.7" width="5.6" height="5.6" fill="#3a9a2c"/><rect x="244.95" y="196.1" width="5.6" height="5.6" fill="#3a9a2c"/><rect x="255.8" y="198.3" width="5.6" height="5.6" fill="#3a9a2c"/><rect x="266.65" y="208.9" width="5.6" height="5.6" fill="#3a9a2c"/><rect x="277.5" y="214.5" width="5.6" height="5.6" fill="#3a9a2c"/><rect x="288.35" y="224.1" width="5.6" height="5.6" fill="#3a9a2c"/><rect x="299.2" y="236.7" width="5.6" height="5.6" fill="#3a9a2c"/><rect x="310.05" y="247.3" width="5.6" height="5.6" fill="#3a9a2c"/><rect x="320.9" y="265.9" width="5.6" height="5.6" fill="#3a9a2c"/><polyline points="215.2,207 226.05,200.3 236.9,199.5 247.75,198.9 258.6,201.1 269.45,211.7 280.3,217.3 291.15,226.9 302,239.5 312.85,250.1 323.7,268.7" fill="none" stroke="#3a9a2c" stroke-width="2.0" stroke-linejoin="round"/><text transform="translate(182.9,229.68) rotate(-90) scale(0.98,1)" text-anchor="middle" font-size="10.1">Policy effects</text></g>
<g><line x1="422.17" y1="167.3" x2="422.17" y2="290.25" stroke="#92c68e" stroke-width="1.3"/><line x1="385.1" y1="201.5" x2="504.3" y2="201.5" stroke="#8c8c8c" stroke-width="1" stroke-dasharray="10.5 5.25"/><line x1="384.8" y1="167.3" x2="384.8" y2="290.75" stroke="#7a7a7a" stroke-width="1"/><line x1="384.3" y1="290.25" x2="504.3" y2="290.25" stroke="#7a7a7a" stroke-width="1"/><line x1="380.7" y1="173.6" x2="384.8" y2="173.6" stroke="#555555" stroke-width="1"/><text x="379.2" y="176.7" text-anchor="end" font-size="7.9">0.05</text><line x1="380.7" y1="201.4" x2="384.8" y2="201.4" stroke="#555555" stroke-width="1"/><text x="379.2" y="204.5" text-anchor="end" font-size="7.9">0.00</text><line x1="380.7" y1="229.6" x2="384.8" y2="229.6" stroke="#555555" stroke-width="1"/><text x="379.2" y="232.7" text-anchor="end" font-size="7.9">-0.05</text><line x1="380.7" y1="257.4" x2="384.8" y2="257.4" stroke="#555555" stroke-width="1"/><text x="379.2" y="260.5" text-anchor="end" font-size="7.9">-0.10</text><line x1="380.7" y1="285.2" x2="384.8" y2="285.2" stroke="#555555" stroke-width="1"/><text x="379.2" y="288.3" text-anchor="end" font-size="7.9">-0.15</text><line x1="392.4" y1="290.25" x2="392.4" y2="293.55" stroke="#555555" stroke-width="1"/><text x="392.4" y="302.65" text-anchor="middle" font-size="7.9">-3</text><line x1="407.29" y1="290.25" x2="407.29" y2="293.55" stroke="#555555" stroke-width="1"/><text x="407.29" y="302.65" text-anchor="middle" font-size="7.9">-2</text><line x1="422.17" y1="290.25" x2="422.17" y2="293.55" stroke="#555555" stroke-width="1"/><text x="422.17" y="302.65" text-anchor="middle" font-size="7.9">-1</text><line x1="437.06" y1="290.25" x2="437.06" y2="293.55" stroke="#555555" stroke-width="1"/><text x="437.06" y="302.65" text-anchor="middle" font-size="7.9">0</text><line x1="451.94" y1="290.25" x2="451.94" y2="293.55" stroke="#555555" stroke-width="1"/><text x="451.94" y="302.65" text-anchor="middle" font-size="7.9">1</text><line x1="466.83" y1="290.25" x2="466.83" y2="293.55" stroke="#555555" stroke-width="1"/><text x="466.83" y="302.65" text-anchor="middle" font-size="7.9">2</text><line x1="481.71" y1="290.25" x2="481.71" y2="293.55" stroke="#555555" stroke-width="1"/><text x="481.71" y="302.65" text-anchor="middle" font-size="7.9">3</text><line x1="496.6" y1="290.25" x2="496.6" y2="293.55" stroke="#555555" stroke-width="1"/><text x="496.6" y="302.65" text-anchor="middle" font-size="7.9">4</text><text transform="translate(444.55,312.85) scale(1,1.09)" text-anchor="middle" font-size="10.1">ERTP + CPEST: Timing</text><line x1="392.4" y1="229.9" x2="392.4" y2="178.2" stroke="#22701c" stroke-width="3.6"/><line x1="390.2" y1="178.2" x2="394.6" y2="178.2" stroke="#22701c" stroke-width="3.6" stroke-linecap="round"/><line x1="390.2" y1="229.9" x2="394.6" y2="229.9" stroke="#22701c" stroke-width="3.6" stroke-linecap="round"/><line x1="407.29" y1="224.6" x2="407.29" y2="174.9" stroke="#22701c" stroke-width="3.6"/><line x1="405.09" y1="174.9" x2="409.49" y2="174.9" stroke="#22701c" stroke-width="3.6" stroke-linecap="round"/><line x1="405.09" y1="224.6" x2="409.49" y2="224.6" stroke="#22701c" stroke-width="3.6" stroke-linecap="round"/><line x1="419.97" y1="201.1" x2="424.37" y2="201.1" stroke="#22701c" stroke-width="3.6" stroke-linecap="round"/><line x1="437.06" y1="216.7" x2="437.06" y2="204.1" stroke="#22701c" stroke-width="3.6"/><line x1="434.86" y1="204.1" x2="439.26" y2="204.1" stroke="#22701c" stroke-width="3.6" stroke-linecap="round"/><line x1="434.86" y1="216.7" x2="439.26" y2="216.7" stroke="#22701c" stroke-width="3.6" stroke-linecap="round"/><line x1="451.94" y1="231.6" x2="451.94" y2="216.3" stroke="#22701c" stroke-width="3.6"/><line x1="449.74" y1="216.3" x2="454.14" y2="216.3" stroke="#22701c" stroke-width="3.6" stroke-linecap="round"/><line x1="449.74" y1="231.6" x2="454.14" y2="231.6" stroke="#22701c" stroke-width="3.6" stroke-linecap="round"/><line x1="466.83" y1="268.7" x2="466.83" y2="242.8" stroke="#22701c" stroke-width="3.6"/><line x1="464.63" y1="242.8" x2="469.03" y2="242.8" stroke="#22701c" stroke-width="3.6" stroke-linecap="round"/><line x1="464.63" y1="268.7" x2="469.03" y2="268.7" stroke="#22701c" stroke-width="3.6" stroke-linecap="round"/><line x1="481.71" y1="273.7" x2="481.71" y2="245.2" stroke="#22701c" stroke-width="3.6"/><line x1="479.51" y1="245.2" x2="483.91" y2="245.2" stroke="#22701c" stroke-width="3.6" stroke-linecap="round"/><line x1="479.51" y1="273.7" x2="483.91" y2="273.7" stroke="#22701c" stroke-width="3.6" stroke-linecap="round"/><line x1="496.6" y1="254.4" x2="496.6" y2="223" stroke="#22701c" stroke-width="3.6"/><line x1="494.4" y1="223" x2="498.8" y2="223" stroke="#22701c" stroke-width="3.6" stroke-linecap="round"/><line x1="494.4" y1="254.4" x2="498.8" y2="254.4" stroke="#22701c" stroke-width="3.6" stroke-linecap="round"/><rect x="389.6" y="200.9" width="5.6" height="5.6" fill="#3a9a2c"/><rect x="404.49" y="197" width="5.6" height="5.6" fill="#3a9a2c"/><rect x="419.37" y="198.3" width="5.6" height="5.6" fill="#3a9a2c"/><rect x="434.26" y="207.6" width="5.6" height="5.6" fill="#3a9a2c"/><rect x="449.14" y="220.8" width="5.6" height="5.6" fill="#3a9a2c"/><rect x="464.03" y="253" width="5.6" height="5.6" fill="#3a9a2c"/><rect x="478.91" y="255.9" width="5.6" height="5.6" fill="#3a9a2c"/><rect x="493.8" y="236.1" width="5.6" height="5.6" fill="#3a9a2c"/><polyline points="392.4,203.7 407.29,199.8 422.17,201.1 437.06,210.4 451.94,223.6 466.83,255.8 481.71,258.7 496.6,238.9" fill="none" stroke="#3a9a2c" stroke-width="2.0" stroke-linejoin="round"/><text transform="translate(357.7,229.68) rotate(-90) scale(0.98,1)" text-anchor="middle" font-size="10.1">Policy effects</text></g>
<g><line x1="600.9" y1="167.3" x2="600.9" y2="290.25" stroke="#a8d4a4" stroke-width="1.7"/><line x1="560" y1="195.5" x2="679.2" y2="195.5" stroke="#8c8c8c" stroke-width="1" stroke-dasharray="10.5 5.25"/><line x1="559.7" y1="167.3" x2="559.7" y2="290.75" stroke="#7a7a7a" stroke-width="1"/><line x1="559.2" y1="290.25" x2="679.2" y2="290.25" stroke="#7a7a7a" stroke-width="1"/><line x1="555.6" y1="173.6" x2="559.7" y2="173.6" stroke="#555555" stroke-width="1"/><text x="554.1" y="176.7" text-anchor="end" font-size="7.9">0.05</text><line x1="555.6" y1="195.5" x2="559.7" y2="195.5" stroke="#555555" stroke-width="1"/><text x="554.1" y="198.6" text-anchor="end" font-size="7.9">0.00</text><line x1="555.6" y1="217.7" x2="559.7" y2="217.7" stroke="#555555" stroke-width="1"/><text x="554.1" y="220.8" text-anchor="end" font-size="7.9">-0.05</text><line x1="555.6" y1="240.2" x2="559.7" y2="240.2" stroke="#555555" stroke-width="1"/><text x="554.1" y="243.3" text-anchor="end" font-size="7.9">-0.10</text><line x1="555.6" y1="262.4" x2="559.7" y2="262.4" stroke="#555555" stroke-width="1"/><text x="554.1" y="265.5" text-anchor="end" font-size="7.9">-0.15</text><line x1="555.6" y1="285" x2="559.7" y2="285" stroke="#555555" stroke-width="1"/><text x="554.1" y="288.1" text-anchor="end" font-size="7.9">-0.20</text><line x1="564" y1="290.25" x2="564" y2="293.55" stroke="#555555" stroke-width="1"/><text x="564" y="302.65" text-anchor="middle" font-size="7.9">-5</text><line x1="573.23" y1="290.25" x2="573.23" y2="293.55" stroke="#555555" stroke-width="1"/><text x="573.23" y="302.65" text-anchor="middle" font-size="7.9">-4</text><line x1="582.45" y1="290.25" x2="582.45" y2="293.55" stroke="#555555" stroke-width="1"/><text x="582.45" y="302.65" text-anchor="middle" font-size="7.9">-3</text><line x1="591.67" y1="290.25" x2="591.67" y2="293.55" stroke="#555555" stroke-width="1"/><text x="591.67" y="302.65" text-anchor="middle" font-size="7.9">-2</text><line x1="600.9" y1="290.25" x2="600.9" y2="293.55" stroke="#555555" stroke-width="1"/><text x="600.9" y="302.65" text-anchor="middle" font-size="7.9">-1</text><line x1="610.12" y1="290.25" x2="610.12" y2="293.55" stroke="#555555" stroke-width="1"/><text x="610.12" y="302.65" text-anchor="middle" font-size="7.9">0</text><line x1="619.35" y1="290.25" x2="619.35" y2="293.55" stroke="#555555" stroke-width="1"/><text x="619.35" y="302.65" text-anchor="middle" font-size="7.9">1</text><line x1="628.58" y1="290.25" x2="628.58" y2="293.55" stroke="#555555" stroke-width="1"/><text x="628.58" y="302.65" text-anchor="middle" font-size="7.9">2</text><line x1="637.8" y1="290.25" x2="637.8" y2="293.55" stroke="#555555" stroke-width="1"/><text x="637.8" y="302.65" text-anchor="middle" font-size="7.9">3</text><line x1="647.03" y1="290.25" x2="647.03" y2="293.55" stroke="#555555" stroke-width="1"/><text x="647.03" y="302.65" text-anchor="middle" font-size="7.9">4</text><line x1="656.25" y1="290.25" x2="656.25" y2="293.55" stroke="#555555" stroke-width="1"/><text x="656.25" y="302.65" text-anchor="middle" font-size="7.9">5</text><line x1="665.48" y1="290.25" x2="665.48" y2="293.55" stroke="#555555" stroke-width="1"/><text x="665.48" y="302.65" text-anchor="middle" font-size="7.9">6</text><line x1="674.7" y1="290.25" x2="674.7" y2="293.55" stroke="#555555" stroke-width="1"/><text x="674.7" y="302.65" text-anchor="middle" font-size="7.9">7</text><text transform="translate(619.45,312.85) scale(1,1.09)" text-anchor="middle" font-size="10.1">LCCP + CPEST: Timing</text><line x1="564" y1="206.4" x2="564" y2="180.6" stroke="#22701c" stroke-width="3.6"/><line x1="561.8" y1="180.6" x2="566.2" y2="180.6" stroke="#22701c" stroke-width="3.6" stroke-linecap="round"/><line x1="561.8" y1="206.4" x2="566.2" y2="206.4" stroke="#22701c" stroke-width="3.6" stroke-linecap="round"/><line x1="573.23" y1="204.1" x2="573.23" y2="179.9" stroke="#22701c" stroke-width="3.6"/><line x1="571.02" y1="179.9" x2="575.43" y2="179.9" stroke="#22701c" stroke-width="3.6" stroke-linecap="round"/><line x1="571.02" y1="204.1" x2="575.43" y2="204.1" stroke="#22701c" stroke-width="3.6" stroke-linecap="round"/><line x1="582.45" y1="203.8" x2="582.45" y2="180.9" stroke="#22701c" stroke-width="3.6"/><line x1="580.25" y1="180.9" x2="584.65" y2="180.9" stroke="#22701c" stroke-width="3.6" stroke-linecap="round"/><line x1="580.25" y1="203.8" x2="584.65" y2="203.8" stroke="#22701c" stroke-width="3.6" stroke-linecap="round"/><line x1="591.67" y1="202.1" x2="591.67" y2="188.5" stroke="#22701c" stroke-width="3.6"/><line x1="589.47" y1="188.5" x2="593.88" y2="188.5" stroke="#22701c" stroke-width="3.6" stroke-linecap="round"/><line x1="589.47" y1="202.1" x2="593.88" y2="202.1" stroke="#22701c" stroke-width="3.6" stroke-linecap="round"/><line x1="598.7" y1="195.5" x2="603.1" y2="195.5" stroke="#22701c" stroke-width="3.6" stroke-linecap="round"/><line x1="610.12" y1="209.1" x2="610.12" y2="180.2" stroke="#22701c" stroke-width="3.6"/><line x1="607.92" y1="180.2" x2="612.33" y2="180.2" stroke="#22701c" stroke-width="3.6" stroke-linecap="round"/><line x1="607.92" y1="209.1" x2="612.33" y2="209.1" stroke="#22701c" stroke-width="3.6" stroke-linecap="round"/><line x1="619.35" y1="210.4" x2="619.35" y2="179.9" stroke="#22701c" stroke-width="3.6"/><line x1="617.15" y1="179.9" x2="621.55" y2="179.9" stroke="#22701c" stroke-width="3.6" stroke-linecap="round"/><line x1="617.15" y1="210.4" x2="621.55" y2="210.4" stroke="#22701c" stroke-width="3.6" stroke-linecap="round"/><line x1="628.58" y1="219.7" x2="628.58" y2="202.4" stroke="#22701c" stroke-width="3.6"/><line x1="626.38" y1="202.4" x2="630.78" y2="202.4" stroke="#22701c" stroke-width="3.6" stroke-linecap="round"/><line x1="626.38" y1="219.7" x2="630.78" y2="219.7" stroke="#22701c" stroke-width="3.6" stroke-linecap="round"/><line x1="637.8" y1="228.3" x2="637.8" y2="206.7" stroke="#22701c" stroke-width="3.6"/><line x1="635.6" y1="206.7" x2="640" y2="206.7" stroke="#22701c" stroke-width="3.6" stroke-linecap="round"/><line x1="635.6" y1="228.3" x2="640" y2="228.3" stroke="#22701c" stroke-width="3.6" stroke-linecap="round"/><line x1="647.03" y1="244.5" x2="647.03" y2="215.7" stroke="#22701c" stroke-width="3.6"/><line x1="644.83" y1="215.7" x2="649.23" y2="215.7" stroke="#22701c" stroke-width="3.6" stroke-linecap="round"/><line x1="644.83" y1="244.5" x2="649.23" y2="244.5" stroke="#22701c" stroke-width="3.6" stroke-linecap="round"/><line x1="656.25" y1="264.1" x2="656.25" y2="230.3" stroke="#22701c" stroke-width="3.6"/><line x1="654.05" y1="230.3" x2="658.45" y2="230.3" stroke="#22701c" stroke-width="3.6" stroke-linecap="round"/><line x1="654.05" y1="264.1" x2="658.45" y2="264.1" stroke="#22701c" stroke-width="3.6" stroke-linecap="round"/><line x1="665.48" y1="274.4" x2="665.48" y2="236.2" stroke="#22701c" stroke-width="3.6"/><line x1="663.27" y1="236.2" x2="667.68" y2="236.2" stroke="#22701c" stroke-width="3.6" stroke-linecap="round"/><line x1="663.27" y1="274.4" x2="667.68" y2="274.4" stroke="#22701c" stroke-width="3.6" stroke-linecap="round"/><line x1="674.7" y1="283.6" x2="674.7" y2="240.2" stroke="#22701c" stroke-width="3.6"/><line x1="672.5" y1="240.2" x2="676.9" y2="240.2" stroke="#22701c" stroke-width="3.6" stroke-linecap="round"/><line x1="672.5" y1="283.6" x2="676.9" y2="283.6" stroke="#22701c" stroke-width="3.6" stroke-linecap="round"/><rect x="561.2" y="190.3" width="5.6" height="5.6" fill="#3a9a2c"/><rect x="570.43" y="190.3" width="5.6" height="5.6" fill="#3a9a2c"/><rect x="579.65" y="190.3" width="5.6" height="5.6" fill="#3a9a2c"/><rect x="588.88" y="191.7" width="5.6" height="5.6" fill="#3a9a2c"/><rect x="598.1" y="192.7" width="5.6" height="5.6" fill="#3a9a2c"/><rect x="607.33" y="191" width="5.6" height="5.6" fill="#3a9a2c"/><rect x="616.55" y="191.3" width="5.6" height="5.6" fill="#3a9a2c"/><rect x="625.78" y="205.9" width="5.6" height="5.6" fill="#3a9a2c"/><rect x="635" y="214.2" width="5.6" height="5.6" fill="#3a9a2c"/><rect x="644.23" y="226.8" width="5.6" height="5.6" fill="#3a9a2c"/><rect x="653.45" y="244" width="5.6" height="5.6" fill="#3a9a2c"/><rect x="662.68" y="252.3" width="5.6" height="5.6" fill="#3a9a2c"/><rect x="671.9" y="259.6" width="5.6" height="5.6" fill="#3a9a2c"/><polyline points="564,193.1 573.23,193.1 582.45,193.1 591.67,194.5 600.9,195.5 610.12,193.8 619.35,194.1 628.58,208.7 637.8,217 647.03,229.6 656.25,246.8 665.48,255.1 674.7,262.4" fill="none" stroke="#3a9a2c" stroke-width="2.0" stroke-linejoin="round"/><text transform="translate(532.6,229.68) rotate(-90) scale(0.98,1)" text-anchor="middle" font-size="10.1">Policy effects</text></g>
<g><line x1="83.78" y1="335" x2="83.78" y2="458.2" stroke="#bedcba" stroke-width="2.0"/><line x1="35.4" y1="368.5" x2="154.6" y2="368.5" stroke="#8c8c8c" stroke-width="1" stroke-dasharray="10.5 5.25"/><line x1="35.1" y1="335" x2="35.1" y2="458.7" stroke="#7a7a7a" stroke-width="1"/><line x1="34.6" y1="458.2" x2="154.6" y2="458.2" stroke="#7a7a7a" stroke-width="1"/><line x1="31" y1="341" x2="35.1" y2="341" stroke="#555555" stroke-width="1"/><text x="29.5" y="344.1" text-anchor="end" font-size="7.9">0.05</text><line x1="31" y1="368.3" x2="35.1" y2="368.3" stroke="#555555" stroke-width="1"/><text x="29.5" y="371.4" text-anchor="end" font-size="7.9">0.00</text><line x1="31" y1="396.3" x2="35.1" y2="396.3" stroke="#555555" stroke-width="1"/><text x="29.5" y="399.4" text-anchor="end" font-size="7.9">-0.05</text><line x1="31" y1="424" x2="35.1" y2="424" stroke="#555555" stroke-width="1"/><text x="29.5" y="427.1" text-anchor="end" font-size="7.9">-0.10</text><line x1="31" y1="452" x2="35.1" y2="452" stroke="#555555" stroke-width="1"/><text x="29.5" y="455.1" text-anchor="end" font-size="7.9">-0.15</text><line x1="40.3" y1="458.2" x2="40.3" y2="461.5" stroke="#555555" stroke-width="1"/><text x="40.3" y="470.6" text-anchor="middle" font-size="7.9">-5</text><line x1="51.17" y1="458.2" x2="51.17" y2="461.5" stroke="#555555" stroke-width="1"/><text x="51.17" y="470.6" text-anchor="middle" font-size="7.9">-4</text><line x1="62.04" y1="458.2" x2="62.04" y2="461.5" stroke="#555555" stroke-width="1"/><text x="62.04" y="470.6" text-anchor="middle" font-size="7.9">-3</text><line x1="72.91" y1="458.2" x2="72.91" y2="461.5" stroke="#555555" stroke-width="1"/><text x="72.91" y="470.6" text-anchor="middle" font-size="7.9">-2</text><line x1="83.78" y1="458.2" x2="83.78" y2="461.5" stroke="#555555" stroke-width="1"/><text x="83.78" y="470.6" text-anchor="middle" font-size="7.9">-1</text><line x1="94.65" y1="458.2" x2="94.65" y2="461.5" stroke="#555555" stroke-width="1"/><text x="94.65" y="470.6" text-anchor="middle" font-size="7.9">0</text><line x1="105.52" y1="458.2" x2="105.52" y2="461.5" stroke="#555555" stroke-width="1"/><text x="105.52" y="470.6" text-anchor="middle" font-size="7.9">1</text><line x1="116.39" y1="458.2" x2="116.39" y2="461.5" stroke="#555555" stroke-width="1"/><text x="116.39" y="470.6" text-anchor="middle" font-size="7.9">2</text><line x1="127.26" y1="458.2" x2="127.26" y2="461.5" stroke="#555555" stroke-width="1"/><text x="127.26" y="470.6" text-anchor="middle" font-size="7.9">3</text><line x1="138.13" y1="458.2" x2="138.13" y2="461.5" stroke="#555555" stroke-width="1"/><text x="138.13" y="470.6" text-anchor="middle" font-size="7.9">4</text><line x1="149" y1="458.2" x2="149" y2="461.5" stroke="#555555" stroke-width="1"/><text x="149" y="470.6" text-anchor="middle" font-size="7.9">5</text><text transform="translate(94.85,481.2) scale(1,1.09)" text-anchor="middle" font-size="10.1">AQESP + CPEST: Timing</text><line x1="40.3" y1="394.3" x2="40.3" y2="368.3" stroke="#22701c" stroke-width="3.6"/><line x1="38.1" y1="368.3" x2="42.5" y2="368.3" stroke="#22701c" stroke-width="3.6" stroke-linecap="round"/><line x1="38.1" y1="394.3" x2="42.5" y2="394.3" stroke="#22701c" stroke-width="3.6" stroke-linecap="round"/><line x1="51.17" y1="378.3" x2="51.17" y2="359" stroke="#22701c" stroke-width="3.6"/><line x1="48.97" y1="359" x2="53.37" y2="359" stroke="#22701c" stroke-width="3.6" stroke-linecap="round"/><line x1="48.97" y1="378.3" x2="53.37" y2="378.3" stroke="#22701c" stroke-width="3.6" stroke-linecap="round"/><line x1="62.04" y1="387" x2="62.04" y2="360.7" stroke="#22701c" stroke-width="3.6"/><line x1="59.84" y1="360.7" x2="64.24" y2="360.7" stroke="#22701c" stroke-width="3.6" stroke-linecap="round"/><line x1="59.84" y1="387" x2="64.24" y2="387" stroke="#22701c" stroke-width="3.6" stroke-linecap="round"/><line x1="72.91" y1="383.3" x2="72.91" y2="360.7" stroke="#22701c" stroke-width="3.6"/><line x1="70.71" y1="360.7" x2="75.11" y2="360.7" stroke="#22701c" stroke-width="3.6" stroke-linecap="round"/><line x1="70.71" y1="383.3" x2="75.11" y2="383.3" stroke="#22701c" stroke-width="3.6" stroke-linecap="round"/><line x1="81.58" y1="368.3" x2="85.98" y2="368.3" stroke="#22701c" stroke-width="3.6" stroke-linecap="round"/><line x1="94.65" y1="381" x2="94.65" y2="368" stroke="#22701c" stroke-width="3.6"/><line x1="92.45" y1="368" x2="96.85" y2="368" stroke="#22701c" stroke-width="3.6" stroke-linecap="round"/><line x1="92.45" y1="381" x2="96.85" y2="381" stroke="#22701c" stroke-width="3.6" stroke-linecap="round"/><line x1="105.52" y1="398" x2="105.52" y2="379" stroke="#22701c" stroke-width="3.6"/><line x1="103.32" y1="379" x2="107.72" y2="379" stroke="#22701c" stroke-width="3.6" stroke-linecap="round"/><line x1="103.32" y1="398" x2="107.72" y2="398" stroke="#22701c" stroke-width="3.6" stroke-linecap="round"/><line x1="116.39" y1="413.7" x2="116.39" y2="389.7" stroke="#22701c" stroke-width="3.6"/><line x1="114.19" y1="389.7" x2="118.59" y2="389.7" stroke="#22701c" stroke-width="3.6" stroke-linecap="round"/><line x1="114.19" y1="413.7" x2="118.59" y2="413.7" stroke="#22701c" stroke-width="3.6" stroke-linecap="round"/><line x1="127.26" y1="422.3" x2="127.26" y2="392" stroke="#22701c" stroke-width="3.6"/><line x1="125.06" y1="392" x2="129.46" y2="392" stroke="#22701c" stroke-width="3.6" stroke-linecap="round"/><line x1="125.06" y1="422.3" x2="129.46" y2="422.3" stroke="#22701c" stroke-width="3.6" stroke-linecap="round"/><line x1="138.13" y1="417.7" x2="138.13" y2="384.3" stroke="#22701c" stroke-width="3.6"/><line x1="135.93" y1="384.3" x2="140.33" y2="384.3" stroke="#22701c" stroke-width="3.6" stroke-linecap="round"/><line x1="135.93" y1="417.7" x2="140.33" y2="417.7" stroke="#22701c" stroke-width="3.6" stroke-linecap="round"/><line x1="149" y1="445.3" x2="149" y2="403.7" stroke="#22701c" stroke-width="3.6"/><line x1="146.8" y1="403.7" x2="151.2" y2="403.7" stroke="#22701c" stroke-width="3.6" stroke-linecap="round"/><line x1="146.8" y1="445.3" x2="151.2" y2="445.3" stroke="#22701c" stroke-width="3.6" stroke-linecap="round"/><rect x="37.5" y="378.5" width="5.6" height="5.6" fill="#3a9a2c"/><rect x="48.37" y="365.9" width="5.6" height="5.6" fill="#3a9a2c"/><rect x="59.24" y="370.9" width="5.6" height="5.6" fill="#3a9a2c"/><rect x="70.11" y="369.2" width="5.6" height="5.6" fill="#3a9a2c"/><rect x="80.98" y="365.5" width="5.6" height="5.6" fill="#3a9a2c"/><rect x="91.85" y="370.9" width="5.6" height="5.6" fill="#3a9a2c"/><rect x="102.72" y="385.2" width="5.6" height="5.6" fill="#3a9a2c"/><rect x="113.59" y="397.9" width="5.6" height="5.6" fill="#3a9a2c"/><rect x="124.46" y="404.2" width="5.6" height="5.6" fill="#3a9a2c"/><rect x="135.33" y="398.5" width="5.6" height="5.6" fill="#3a9a2c"/><rect x="146.2" y="421.9" width="5.6" height="5.6" fill="#3a9a2c"/><polyline points="40.3,381.3 51.17,368.7 62.04,373.7 72.91,372 83.78,368.3 94.65,373.7 105.52,388 116.39,400.7 127.26,407 138.13,401.3 149,424.7" fill="none" stroke="#3a9a2c" stroke-width="2.0" stroke-linejoin="round"/><text transform="translate(8,396.9) rotate(-90) scale(0.98,1)" text-anchor="middle" font-size="10.1">Policy effects</text></g>
<g><line x1="256.45" y1="335" x2="256.45" y2="458.2" stroke="#84c080" stroke-width="1.3"/><line x1="210.3" y1="368.5" x2="329.4" y2="368.5" stroke="#8c8c8c" stroke-width="1" stroke-dasharray="10.5 5.25"/><line x1="210" y1="335" x2="210" y2="458.7" stroke="#7a7a7a" stroke-width="1"/><line x1="209.5" y1="458.2" x2="329.4" y2="458.2" stroke="#7a7a7a" stroke-width="1"/><line x1="205.9" y1="341" x2="210" y2="341" stroke="#555555" stroke-width="1"/><text x="204.4" y="344.1" text-anchor="end" font-size="7.9">0.05</text><line x1="205.9" y1="368.3" x2="210" y2="368.3" stroke="#555555" stroke-width="1"/><text x="204.4" y="371.4" text-anchor="end" font-size="7.9">0.00</text><line x1="205.9" y1="396.3" x2="210" y2="396.3" stroke="#555555" stroke-width="1"/><text x="204.4" y="399.4" text-anchor="end" font-size="7.9">-0.05</text><line x1="205.9" y1="424" x2="210" y2="424" stroke="#555555" stroke-width="1"/><text x="204.4" y="427.1" text-anchor="end" font-size="7.9">-0.10</text><line x1="205.9" y1="452" x2="210" y2="452" stroke="#555555" stroke-width="1"/><text x="204.4" y="455.1" text-anchor="end" font-size="7.9">-0.15</text><line x1="216.7" y1="458.2" x2="216.7" y2="461.5" stroke="#555555" stroke-width="1"/><text x="216.7" y="470.6" text-anchor="middle" font-size="7.9">-4</text><line x1="229.95" y1="458.2" x2="229.95" y2="461.5" stroke="#555555" stroke-width="1"/><text x="229.95" y="470.6" text-anchor="middle" font-size="7.9">-3</text><line x1="243.2" y1="458.2" x2="243.2" y2="461.5" stroke="#555555" stroke-width="1"/><text x="243.2" y="470.6" text-anchor="middle" font-size="7.9">-2</text><line x1="256.45" y1="458.2" x2="256.45" y2="461.5" stroke="#555555" stroke-width="1"/><text x="256.45" y="470.6" text-anchor="middle" font-size="7.9">-1</text><line x1="269.7" y1="458.2" x2="269.7" y2="461.5" stroke="#555555" stroke-width="1"/><text x="269.7" y="470.6" text-anchor="middle" font-size="7.9">0</text><line x1="282.95" y1="458.2" x2="282.95" y2="461.5" stroke="#555555" stroke-width="1"/><text x="282.95" y="470.6" text-anchor="middle" font-size="7.9">1</text><line x1="296.2" y1="458.2" x2="296.2" y2="461.5" stroke="#555555" stroke-width="1"/><text x="296.2" y="470.6" text-anchor="middle" font-size="7.9">2</text><line x1="309.45" y1="458.2" x2="309.45" y2="461.5" stroke="#555555" stroke-width="1"/><text x="309.45" y="470.6" text-anchor="middle" font-size="7.9">3</text><line x1="322.7" y1="458.2" x2="322.7" y2="461.5" stroke="#555555" stroke-width="1"/><text x="322.7" y="470.6" text-anchor="middle" font-size="7.9">4</text><text transform="translate(269.7,481.2) scale(1,1.09)" text-anchor="middle" font-size="10.1">VMSR + CPEST: Timing</text><line x1="216.7" y1="378" x2="216.7" y2="357.7" stroke="#22701c" stroke-width="3.6"/><line x1="214.5" y1="357.7" x2="218.9" y2="357.7" stroke="#22701c" stroke-width="3.6" stroke-linecap="round"/><line x1="214.5" y1="378" x2="218.9" y2="378" stroke="#22701c" stroke-width="3.6" stroke-linecap="round"/><line x1="229.95" y1="373.7" x2="229.95" y2="349" stroke="#22701c" stroke-width="3.6"/><line x1="227.75" y1="349" x2="232.15" y2="349" stroke="#22701c" stroke-width="3.6" stroke-linecap="round"/><line x1="227.75" y1="373.7" x2="232.15" y2="373.7" stroke="#22701c" stroke-width="3.6" stroke-linecap="round"/><line x1="243.2" y1="374" x2="243.2" y2="345.3" stroke="#22701c" stroke-width="3.6"/><line x1="241" y1="345.3" x2="245.4" y2="345.3" stroke="#22701c" stroke-width="3.6" stroke-linecap="round"/><line x1="241" y1="374" x2="245.4" y2="374" stroke="#22701c" stroke-width="3.6" stroke-linecap="round"/><line x1="256.45" y1="387.7" x2="256.45" y2="360.3" stroke="#22701c" stroke-width="3.6"/><line x1="254.25" y1="360.3" x2="258.65" y2="360.3" stroke="#22701c" stroke-width="3.6" stroke-linecap="round"/><line x1="254.25" y1="387.7" x2="258.65" y2="387.7" stroke="#22701c" stroke-width="3.6" stroke-linecap="round"/><line x1="269.7" y1="419.7" x2="269.7" y2="387.7" stroke="#22701c" stroke-width="3.6"/><line x1="267.5" y1="387.7" x2="271.9" y2="387.7" stroke="#22701c" stroke-width="3.6" stroke-linecap="round"/><line x1="267.5" y1="419.7" x2="271.9" y2="419.7" stroke="#22701c" stroke-width="3.6" stroke-linecap="round"/><line x1="282.95" y1="417.7" x2="282.95" y2="382.7" stroke="#22701c" stroke-width="3.6"/><line x1="280.75" y1="382.7" x2="285.15" y2="382.7" stroke="#22701c" stroke-width="3.6" stroke-linecap="round"/><line x1="280.75" y1="417.7" x2="285.15" y2="417.7" stroke="#22701c" stroke-width="3.6" stroke-linecap="round"/><line x1="296.2" y1="427" x2="296.2" y2="389.7" stroke="#22701c" stroke-width="3.6"/><line x1="294" y1="389.7" x2="298.4" y2="389.7" stroke="#22701c" stroke-width="3.6" stroke-linecap="round"/><line x1="294" y1="427" x2="298.4" y2="427" stroke="#22701c" stroke-width="3.6" stroke-linecap="round"/><line x1="309.45" y1="430.3" x2="309.45" y2="391.3" stroke="#22701c" stroke-width="3.6"/><line x1="307.25" y1="391.3" x2="311.65" y2="391.3" stroke="#22701c" stroke-width="3.6" stroke-linecap="round"/><line x1="307.25" y1="430.3" x2="311.65" y2="430.3" stroke="#22701c" stroke-width="3.6" stroke-linecap="round"/><line x1="322.7" y1="448.7" x2="322.7" y2="393.3" stroke="#22701c" stroke-width="3.6"/><line x1="320.5" y1="393.3" x2="324.9" y2="393.3" stroke="#22701c" stroke-width="3.6" stroke-linecap="round"/><line x1="320.5" y1="448.7" x2="324.9" y2="448.7" stroke="#22701c" stroke-width="3.6" stroke-linecap="round"/><rect x="213.9" y="365.5" width="5.6" height="5.6" fill="#3a9a2c"/><rect x="227.15" y="358.8" width="5.6" height="5.6" fill="#3a9a2c"/><rect x="240.4" y="356.8" width="5.6" height="5.6" fill="#3a9a2c"/><rect x="253.65" y="371.9" width="5.6" height="5.6" fill="#3a9a2c"/><rect x="266.9" y="400.8" width="5.6" height="5.6" fill="#3a9a2c"/><rect x="280.15" y="397.5" width="5.6" height="5.6" fill="#3a9a2c"/><rect x="293.4" y="406.1" width="5.6" height="5.6" fill="#3a9a2c"/><rect x="306.65" y="408.8" width="5.6" height="5.6" fill="#3a9a2c"/><rect x="319.9" y="418.8" width="5.6" height="5.6" fill="#3a9a2c"/><polyline points="216.7,368.3 229.95,361.6 243.2,359.6 256.45,374.7 269.7,403.6 282.95,400.3 296.2,408.9 309.45,411.6 322.7,421.6" fill="none" stroke="#3a9a2c" stroke-width="2.0" stroke-linejoin="round"/><text transform="translate(182.9,396.9) rotate(-90) scale(0.98,1)" text-anchor="middle" font-size="10.1">Policy effects</text></g>
<g><line x1="431.2" y1="335" x2="431.2" y2="458.2" stroke="#8cc488" stroke-width="1.3"/><line x1="385.1" y1="347.5" x2="504.3" y2="347.5" stroke="#8c8c8c" stroke-width="1" stroke-dasharray="10.5 5.25"/><line x1="384.8" y1="335" x2="384.8" y2="458.7" stroke="#7a7a7a" stroke-width="1"/><line x1="384.3" y1="458.2" x2="504.3" y2="458.2" stroke="#7a7a7a" stroke-width="1"/><line x1="380.7" y1="347.3" x2="384.8" y2="347.3" stroke="#555555" stroke-width="1"/><text x="379.2" y="350.4" text-anchor="end" font-size="7.9">0.00</text><line x1="380.7" y1="382.7" x2="384.8" y2="382.7" stroke="#555555" stroke-width="1"/><text x="379.2" y="385.8" text-anchor="end" font-size="7.9">-0.05</text><line x1="380.7" y1="417.7" x2="384.8" y2="417.7" stroke="#555555" stroke-width="1"/><text x="379.2" y="420.8" text-anchor="end" font-size="7.9">-0.10</text><line x1="380.7" y1="452.3" x2="384.8" y2="452.3" stroke="#555555" stroke-width="1"/><text x="379.2" y="455.4" text-anchor="end" font-size="7.9">-0.15</text><line x1="391.3" y1="458.2" x2="391.3" y2="461.5" stroke="#555555" stroke-width="1"/><text x="391.3" y="470.6" text-anchor="middle" font-size="7.9">-4</text><line x1="404.6" y1="458.2" x2="404.6" y2="461.5" stroke="#555555" stroke-width="1"/><text x="404.6" y="470.6" text-anchor="middle" font-size="7.9">-3</text><line x1="417.9" y1="458.2" x2="417.9" y2="461.5" stroke="#555555" stroke-width="1"/><text x="417.9" y="470.6" text-anchor="middle" font-size="7.9">-2</text><line x1="431.2" y1="458.2" x2="431.2" y2="461.5" stroke="#555555" stroke-width="1"/><text x="431.2" y="470.6" text-anchor="middle" font-size="7.9">-1</text><line x1="444.5" y1="458.2" x2="444.5" y2="461.5" stroke="#555555" stroke-width="1"/><text x="444.5" y="470.6" text-anchor="middle" font-size="7.9">0</text><line x1="457.8" y1="458.2" x2="457.8" y2="461.5" stroke="#555555" stroke-width="1"/><text x="457.8" y="470.6" text-anchor="middle" font-size="7.9">1</text><line x1="471.1" y1="458.2" x2="471.1" y2="461.5" stroke="#555555" stroke-width="1"/><text x="471.1" y="470.6" text-anchor="middle" font-size="7.9">2</text><line x1="484.4" y1="458.2" x2="484.4" y2="461.5" stroke="#555555" stroke-width="1"/><text x="484.4" y="470.6" text-anchor="middle" font-size="7.9">3</text><line x1="497.7" y1="458.2" x2="497.7" y2="461.5" stroke="#555555" stroke-width="1"/><text x="497.7" y="470.6" text-anchor="middle" font-size="7.9">4</text><text transform="translate(444.55,481.2) scale(1,1.09)" text-anchor="middle" font-size="10.1">CEPI + CPEST: Timing</text><line x1="391.3" y1="370.3" x2="391.3" y2="340.7" stroke="#22701c" stroke-width="3.6"/><line x1="389.1" y1="340.7" x2="393.5" y2="340.7" stroke="#22701c" stroke-width="3.6" stroke-linecap="round"/><line x1="389.1" y1="370.3" x2="393.5" y2="370.3" stroke="#22701c" stroke-width="3.6" stroke-linecap="round"/><line x1="404.6" y1="373.7" x2="404.6" y2="342.3" stroke="#22701c" stroke-width="3.6"/><line x1="402.4" y1="342.3" x2="406.8" y2="342.3" stroke="#22701c" stroke-width="3.6" stroke-linecap="round"/><line x1="402.4" y1="373.7" x2="406.8" y2="373.7" stroke="#22701c" stroke-width="3.6" stroke-linecap="round"/><line x1="417.9" y1="369" x2="417.9" y2="345" stroke="#22701c" stroke-width="3.6"/><line x1="415.7" y1="345" x2="420.1" y2="345" stroke="#22701c" stroke-width="3.6" stroke-linecap="round"/><line x1="415.7" y1="369" x2="420.1" y2="369" stroke="#22701c" stroke-width="3.6" stroke-linecap="round"/><line x1="429" y1="347.3" x2="433.4" y2="347.3" stroke="#22701c" stroke-width="3.6" stroke-linecap="round"/><line x1="444.5" y1="369.3" x2="444.5" y2="354.7" stroke="#22701c" stroke-width="3.6"/><line x1="442.3" y1="354.7" x2="446.7" y2="354.7" stroke="#22701c" stroke-width="3.6" stroke-linecap="round"/><line x1="442.3" y1="369.3" x2="446.7" y2="369.3" stroke="#22701c" stroke-width="3.6" stroke-linecap="round"/><line x1="457.8" y1="383.7" x2="457.8" y2="359" stroke="#22701c" stroke-width="3.6"/><line x1="455.6" y1="359" x2="460" y2="359" stroke="#22701c" stroke-width="3.6" stroke-linecap="round"/><line x1="455.6" y1="383.7" x2="460" y2="383.7" stroke="#22701c" stroke-width="3.6" stroke-linecap="round"/><line x1="471.1" y1="406.7" x2="471.1" y2="376.3" stroke="#22701c" stroke-width="3.6"/><line x1="468.9" y1="376.3" x2="473.3" y2="376.3" stroke="#22701c" stroke-width="3.6" stroke-linecap="round"/><line x1="468.9" y1="406.7" x2="473.3" y2="406.7" stroke="#22701c" stroke-width="3.6" stroke-linecap="round"/><line x1="484.4" y1="435.3" x2="484.4" y2="399.3" stroke="#22701c" stroke-width="3.6"/><line x1="482.2" y1="399.3" x2="486.6" y2="399.3" stroke="#22701c" stroke-width="3.6" stroke-linecap="round"/><line x1="482.2" y1="435.3" x2="486.6" y2="435.3" stroke="#22701c" stroke-width="3.6" stroke-linecap="round"/><line x1="497.7" y1="427.3" x2="497.7" y2="388" stroke="#22701c" stroke-width="3.6"/><line x1="495.5" y1="388" x2="499.9" y2="388" stroke="#22701c" stroke-width="3.6" stroke-linecap="round"/><line x1="495.5" y1="427.3" x2="499.9" y2="427.3" stroke="#22701c" stroke-width="3.6" stroke-linecap="round"/><rect x="388.5" y="352.5" width="5.6" height="5.6" fill="#3a9a2c"/><rect x="401.8" y="355.2" width="5.6" height="5.6" fill="#3a9a2c"/><rect x="415.1" y="353.9" width="5.6" height="5.6" fill="#3a9a2c"/><rect x="428.4" y="344.5" width="5.6" height="5.6" fill="#3a9a2c"/><rect x="441.7" y="358.5" width="5.6" height="5.6" fill="#3a9a2c"/><rect x="455" y="368.5" width="5.6" height="5.6" fill="#3a9a2c"/><rect x="468.3" y="388.9" width="5.6" height="5.6" fill="#3a9a2c"/><rect x="481.6" y="414.5" width="5.6" height="5.6" fill="#3a9a2c"/><rect x="494.9" y="405.2" width="5.6" height="5.6" fill="#3a9a2c"/><polyline points="391.3,355.3 404.6,358 417.9,356.7 431.2,347.3 444.5,361.3 457.8,371.3 471.1,391.7 484.4,417.3 497.7,408" fill="none" stroke="#3a9a2c" stroke-width="2.0" stroke-linejoin="round"/><text transform="translate(357.7,396.9) rotate(-90) scale(0.98,1)" text-anchor="middle" font-size="10.1">Policy effects</text></g>
</svg>
</body></html>
